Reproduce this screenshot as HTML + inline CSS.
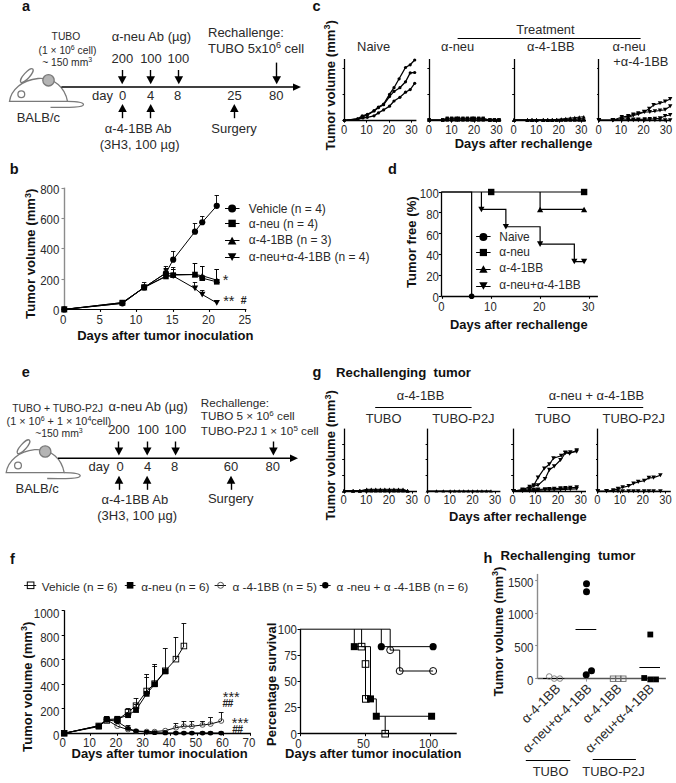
<!DOCTYPE html>
<html><head><meta charset="utf-8"><style>
html,body{margin:0;padding:0;background:#fff;}
svg{display:block;}
text{font-family:"Liberation Sans", sans-serif;}
</style></head><body>
<svg width="676" height="783" viewBox="0 0 676 783">
<rect width="676" height="783" fill="#fff"/>
<text x="21.90" y="11.30" font-size="14.5" font-weight="bold" fill="#111">a</text>
<text x="65.90" y="40.20" font-size="10.3" text-anchor="middle" fill="#2a2a2a">TUBO</text>
<text x="67.50" y="54.00" font-size="10.3" text-anchor="middle" fill="#2a2a2a">(1 × 10<tspan dy="-4" font-size="7">6</tspan><tspan dy="4"> cell)</tspan></text>
<text x="67.20" y="65.50" font-size="10.3" text-anchor="middle" fill="#2a2a2a">~ 150 mm<tspan dy="-4" font-size="7">3</tspan></text>
<g transform="translate(0.00 0.00)" fill="none" stroke="#7a7a7a" stroke-width="1.3">
<ellipse cx="26.8" cy="75.6" rx="8.9" ry="2.9" transform="rotate(-48 26.8 75.6)" fill="#fff"/>
<path d="M9.5,101.4 C11,90 22,80 38,78.5 C55,77.5 65,88 67.5,101.4 Z" fill="#fff"/>
<path d="M67.5,101.4 C75,101.4 83,101.5 83.5,104.5 C83.5,107.5 70,107.6 50.5,107.3"/>
<circle cx="21.3" cy="94.3" r="3.4" fill="#fff"/>
<circle cx="48.5" cy="80.3" r="5.7" fill="#b4b4b4"/>
</g>
<text x="16.70" y="122.00" font-size="13" fill="#2a2a2a">BALB/c</text>
<line x1="61.40" y1="87.10" x2="294.00" y2="87.10" stroke="#000" stroke-width="1.5"/>
<polygon points="293.00,83.40 301.00,87.10 293.00,90.80" fill="#000"/>
<text x="111.70" y="41.00" font-size="13" fill="#2a2a2a">α-neu Ab (µg)</text>
<text x="122.40" y="62.60" font-size="13" text-anchor="middle" fill="#2a2a2a">200</text>
<text x="151.00" y="62.60" font-size="13" text-anchor="middle" fill="#2a2a2a">100</text>
<text x="178.40" y="62.60" font-size="13" text-anchor="middle" fill="#2a2a2a">100</text>
<line x1="122.50" y1="70.00" x2="122.50" y2="77.30" stroke="#000" stroke-width="1.4"/>
<polygon points="117.90,76.30 126.50,76.30 122.20,84.30" fill="#000"/>
<line x1="150.50" y1="70.00" x2="150.50" y2="77.30" stroke="#000" stroke-width="1.4"/>
<polygon points="146.40,76.30 155.00,76.30 150.70,84.30" fill="#000"/>
<line x1="178.50" y1="70.00" x2="178.50" y2="77.30" stroke="#000" stroke-width="1.4"/>
<polygon points="174.50,76.30 183.10,76.30 178.80,84.30" fill="#000"/>
<line x1="276.50" y1="62.60" x2="276.50" y2="77.30" stroke="#000" stroke-width="1.4"/>
<polygon points="272.40,76.30 281.00,76.30 276.70,84.30" fill="#000"/>
<text x="92.00" y="100.20" font-size="13" fill="#2a2a2a">day</text>
<text x="122.60" y="100.20" font-size="13" text-anchor="middle" fill="#2a2a2a">0</text>
<text x="150.70" y="100.20" font-size="13" text-anchor="middle" fill="#2a2a2a">4</text>
<text x="177.60" y="100.20" font-size="13" text-anchor="middle" fill="#2a2a2a">8</text>
<text x="234.60" y="100.20" font-size="13" text-anchor="middle" fill="#2a2a2a">25</text>
<text x="276.30" y="100.20" font-size="13" text-anchor="middle" fill="#2a2a2a">80</text>
<line x1="122.50" y1="111.00" x2="122.50" y2="118.20" stroke="#000" stroke-width="1.4"/>
<polygon points="118.20,112.00 126.80,112.00 122.50,104.00" fill="#000"/>
<line x1="150.50" y1="111.00" x2="150.50" y2="118.20" stroke="#000" stroke-width="1.4"/>
<polygon points="146.40,112.00 155.00,112.00 150.70,104.00" fill="#000"/>
<line x1="234.50" y1="111.00" x2="234.50" y2="118.20" stroke="#000" stroke-width="1.4"/>
<polygon points="230.00,112.00 238.60,112.00 234.30,104.00" fill="#000"/>
<text x="138.20" y="133.30" font-size="13" text-anchor="middle" fill="#2a2a2a">α-4-1BB Ab</text>
<text x="139.60" y="149.20" font-size="13" text-anchor="middle" fill="#2a2a2a">(3H3, 100 µg)</text>
<text x="234.00" y="133.00" font-size="13" text-anchor="middle" fill="#2a2a2a">Surgery</text>
<text x="208.00" y="36.90" font-size="13" fill="#2a2a2a">Rechallenge:</text>
<text x="208.00" y="52.80" font-size="13" fill="#2a2a2a">TUBO 5x10<tspan dy="-4.5" font-size="9">6</tspan><tspan dy="4.5"> cell</tspan></text>
<text x="21.70" y="377.40" font-size="14.5" font-weight="bold" fill="#111">e</text>
<text x="57.50" y="411.80" font-size="10.4" text-anchor="middle" fill="#2a2a2a">TUBO + TUBO-P2J</text>
<text x="58.90" y="424.80" font-size="10.85" text-anchor="middle" fill="#2a2a2a">(1 × 10<tspan dy="-4" font-size="7">6</tspan><tspan dy="4"> + 1 × 10</tspan><tspan dy="-4" font-size="7">4</tspan><tspan dy="4">cell)</tspan></text>
<text x="59.00" y="436.70" font-size="10.4" text-anchor="middle" fill="#2a2a2a">~150 mm<tspan dy="-4" font-size="7">3</tspan></text>
<g transform="translate(-3.30 371.20)" fill="none" stroke="#7a7a7a" stroke-width="1.3">
<ellipse cx="26.8" cy="75.6" rx="8.9" ry="2.9" transform="rotate(-48 26.8 75.6)" fill="#fff"/>
<path d="M9.5,101.4 C11,90 22,80 38,78.5 C55,77.5 65,88 67.5,101.4 Z" fill="#fff"/>
<path d="M67.5,101.4 C75,101.4 83,101.5 83.5,104.5 C83.5,107.5 70,107.6 50.5,107.3"/>
<circle cx="21.3" cy="94.3" r="3.4" fill="#fff"/>
<circle cx="48.5" cy="80.3" r="5.7" fill="#b4b4b4"/>
</g>
<text x="15.50" y="492.90" font-size="13" fill="#2a2a2a">BALB/c</text>
<line x1="58.00" y1="458.30" x2="291.00" y2="458.30" stroke="#000" stroke-width="1.5"/>
<polygon points="290.00,454.60 298.00,458.30 290.00,462.00" fill="#000"/>
<text x="108.60" y="411.30" font-size="13" fill="#2a2a2a">α-neu Ab (µg)</text>
<text x="119.00" y="433.50" font-size="13" text-anchor="middle" fill="#2a2a2a">200</text>
<text x="148.20" y="433.50" font-size="13" text-anchor="middle" fill="#2a2a2a">100</text>
<text x="175.40" y="433.50" font-size="13" text-anchor="middle" fill="#2a2a2a">100</text>
<line x1="118.50" y1="441.50" x2="118.50" y2="448.40" stroke="#000" stroke-width="1.4"/>
<polygon points="114.60,447.40 123.20,447.40 118.90,455.40" fill="#000"/>
<line x1="147.50" y1="441.50" x2="147.50" y2="448.40" stroke="#000" stroke-width="1.4"/>
<polygon points="142.90,447.40 151.50,447.40 147.20,455.40" fill="#000"/>
<line x1="175.50" y1="441.50" x2="175.50" y2="448.40" stroke="#000" stroke-width="1.4"/>
<polygon points="171.30,447.40 179.90,447.40 175.60,455.40" fill="#000"/>
<line x1="273.50" y1="441.50" x2="273.50" y2="448.40" stroke="#000" stroke-width="1.4"/>
<polygon points="269.10,447.40 277.70,447.40 273.40,455.40" fill="#000"/>
<text x="88.60" y="471.30" font-size="13" fill="#2a2a2a">day</text>
<text x="120.00" y="471.30" font-size="13" text-anchor="middle" fill="#2a2a2a">0</text>
<text x="147.50" y="471.30" font-size="13" text-anchor="middle" fill="#2a2a2a">4</text>
<text x="174.60" y="471.30" font-size="13" text-anchor="middle" fill="#2a2a2a">8</text>
<text x="231.00" y="471.30" font-size="13" text-anchor="middle" fill="#2a2a2a">60</text>
<text x="272.80" y="471.30" font-size="13" text-anchor="middle" fill="#2a2a2a">80</text>
<line x1="119.50" y1="482.80" x2="119.50" y2="489.80" stroke="#000" stroke-width="1.4"/>
<polygon points="114.70,483.80 123.30,483.80 119.00,475.80" fill="#000"/>
<line x1="147.50" y1="482.80" x2="147.50" y2="489.80" stroke="#000" stroke-width="1.4"/>
<polygon points="142.80,483.80 151.40,483.80 147.10,475.80" fill="#000"/>
<line x1="231.50" y1="482.80" x2="231.50" y2="489.80" stroke="#000" stroke-width="1.4"/>
<polygon points="226.70,483.80 235.30,483.80 231.00,475.80" fill="#000"/>
<text x="134.90" y="504.10" font-size="13" text-anchor="middle" fill="#2a2a2a">α-4-1BB Ab</text>
<text x="137.10" y="520.10" font-size="13" text-anchor="middle" fill="#2a2a2a">(3H3, 100 µg)</text>
<text x="230.70" y="503.20" font-size="13" text-anchor="middle" fill="#2a2a2a">Surgery</text>
<text x="200.80" y="406.90" font-size="11.7" fill="#2a2a2a">Rechallenge:</text>
<text x="200.80" y="420.40" font-size="11.7" fill="#2a2a2a">TUBO 5 × 10<tspan dy="-4" font-size="8">6</tspan><tspan dy="4"> cell</tspan></text>
<text x="200.80" y="434.90" font-size="11.7" fill="#2a2a2a">TUBO-P2J 1 × 10<tspan dy="-4" font-size="8">5</tspan><tspan dy="4"> cell</tspan></text>
<text x="9.80" y="173.90" font-size="14.5" font-weight="bold" fill="#111">b</text>
<line x1="64.50" y1="187.62" x2="64.50" y2="309.40" stroke="#8c8c8c" stroke-width="1.4"/>
<line x1="61.50" y1="309.50" x2="64.00" y2="309.50" stroke="#8c8c8c" stroke-width="1.1"/>
<text x="0.00" y="0.00" font-size="11.5" text-anchor="end" fill="#2a2a2a" transform="translate(59.40 315.00) scale(1 1.12)">0</text>
<line x1="61.50" y1="279.50" x2="64.00" y2="279.50" stroke="#8c8c8c" stroke-width="1.1"/>
<text x="0.00" y="0.00" font-size="11.5" text-anchor="end" fill="#2a2a2a" transform="translate(59.40 284.68) scale(1 1.12)">200</text>
<line x1="61.50" y1="248.50" x2="64.00" y2="248.50" stroke="#8c8c8c" stroke-width="1.1"/>
<text x="0.00" y="0.00" font-size="11.5" text-anchor="end" fill="#2a2a2a" transform="translate(59.40 254.36) scale(1 1.12)">400</text>
<line x1="61.50" y1="218.50" x2="64.00" y2="218.50" stroke="#8c8c8c" stroke-width="1.1"/>
<text x="0.00" y="0.00" font-size="11.5" text-anchor="end" fill="#2a2a2a" transform="translate(59.40 224.04) scale(1 1.12)">600</text>
<line x1="61.50" y1="188.50" x2="64.00" y2="188.50" stroke="#8c8c8c" stroke-width="1.1"/>
<text x="0.00" y="0.00" font-size="11.5" text-anchor="end" fill="#2a2a2a" transform="translate(59.40 193.72) scale(1 1.12)">800</text>
<line x1="64.00" y1="309.50" x2="246.40" y2="309.50" stroke="#000" stroke-width="1.2"/>
<line x1="64.50" y1="309.40" x2="64.50" y2="311.90" stroke="#000" stroke-width="1.1"/>
<text x="0.00" y="0.00" font-size="11.5" text-anchor="middle" fill="#2a2a2a" transform="translate(63.30 323.50) scale(1 1.12)">0</text>
<line x1="100.50" y1="309.40" x2="100.50" y2="311.90" stroke="#000" stroke-width="1.1"/>
<text x="0.00" y="0.00" font-size="11.5" text-anchor="middle" fill="#2a2a2a" transform="translate(99.60 323.50) scale(1 1.12)">5</text>
<line x1="136.50" y1="309.40" x2="136.50" y2="311.90" stroke="#000" stroke-width="1.1"/>
<text x="0.00" y="0.00" font-size="11.5" text-anchor="middle" fill="#2a2a2a" transform="translate(135.90 323.50) scale(1 1.12)">10</text>
<line x1="173.50" y1="309.40" x2="173.50" y2="311.90" stroke="#000" stroke-width="1.1"/>
<text x="0.00" y="0.00" font-size="11.5" text-anchor="middle" fill="#2a2a2a" transform="translate(172.20 323.50) scale(1 1.12)">15</text>
<line x1="209.50" y1="309.40" x2="209.50" y2="311.90" stroke="#000" stroke-width="1.1"/>
<text x="0.00" y="0.00" font-size="11.5" text-anchor="middle" fill="#2a2a2a" transform="translate(208.50 323.50) scale(1 1.12)">20</text>
<line x1="245.50" y1="309.40" x2="245.50" y2="311.90" stroke="#000" stroke-width="1.1"/>
<text x="0.00" y="0.00" font-size="11.5" text-anchor="middle" fill="#2a2a2a" transform="translate(244.80 323.50) scale(1 1.12)">25</text>
<text x="165.30" y="339.90" font-size="13" font-weight="bold" text-anchor="middle" fill="#111">Days after tumor inoculation</text>
<text x="35.20" y="318.90" font-size="13.15" font-weight="bold" fill="#111" transform="rotate(-90 35.20 318.90)">Tumor volume (mm<tspan dy="-4.6" font-size="9">3</tspan><tspan dy="4.6">)</tspan></text>
<line x1="144.50" y1="287.42" x2="144.50" y2="282.87" stroke="#000" stroke-width="0.9"/>
<line x1="141.96" y1="282.50" x2="146.36" y2="282.50" stroke="#000" stroke-width="0.9"/>
<line x1="165.50" y1="273.02" x2="165.50" y2="266.19" stroke="#000" stroke-width="0.9"/>
<line x1="163.74" y1="266.50" x2="168.14" y2="266.50" stroke="#000" stroke-width="0.9"/>
<line x1="173.50" y1="259.68" x2="173.50" y2="251.03" stroke="#000" stroke-width="0.9"/>
<line x1="171.00" y1="251.50" x2="175.40" y2="251.50" stroke="#000" stroke-width="0.9"/>
<line x1="194.50" y1="231.63" x2="194.50" y2="223.14" stroke="#000" stroke-width="0.9"/>
<line x1="192.78" y1="223.50" x2="197.18" y2="223.50" stroke="#000" stroke-width="0.9"/>
<line x1="202.50" y1="222.23" x2="202.50" y2="216.17" stroke="#000" stroke-width="0.9"/>
<line x1="200.04" y1="216.50" x2="204.44" y2="216.50" stroke="#000" stroke-width="0.9"/>
<line x1="216.50" y1="205.86" x2="216.50" y2="195.09" stroke="#000" stroke-width="0.9"/>
<line x1="214.56" y1="195.50" x2="218.96" y2="195.50" stroke="#000" stroke-width="0.9"/>
<line x1="165.50" y1="276.50" x2="165.50" y2="268.47" stroke="#000" stroke-width="0.9"/>
<line x1="163.74" y1="268.50" x2="168.14" y2="268.50" stroke="#000" stroke-width="0.9"/>
<line x1="173.50" y1="275.14" x2="173.50" y2="269.23" stroke="#000" stroke-width="0.9"/>
<line x1="171.00" y1="269.50" x2="175.40" y2="269.50" stroke="#000" stroke-width="0.9"/>
<line x1="194.50" y1="274.53" x2="194.50" y2="263.92" stroke="#000" stroke-width="0.9"/>
<line x1="192.78" y1="263.50" x2="197.18" y2="263.50" stroke="#000" stroke-width="0.9"/>
<line x1="202.50" y1="278.17" x2="202.50" y2="266.50" stroke="#000" stroke-width="0.9"/>
<line x1="200.04" y1="266.50" x2="204.44" y2="266.50" stroke="#000" stroke-width="0.9"/>
<line x1="216.50" y1="281.81" x2="216.50" y2="269.68" stroke="#000" stroke-width="0.9"/>
<line x1="214.56" y1="269.50" x2="218.96" y2="269.50" stroke="#000" stroke-width="0.9"/>
<line x1="165.50" y1="273.02" x2="165.50" y2="269.68" stroke="#000" stroke-width="0.9"/>
<line x1="163.74" y1="269.50" x2="168.14" y2="269.50" stroke="#000" stroke-width="0.9"/>
<line x1="173.50" y1="274.53" x2="173.50" y2="269.68" stroke="#000" stroke-width="0.9"/>
<line x1="171.00" y1="269.50" x2="175.40" y2="269.50" stroke="#000" stroke-width="0.9"/>
<line x1="194.50" y1="274.53" x2="194.50" y2="263.47" stroke="#000" stroke-width="0.9"/>
<line x1="192.78" y1="263.50" x2="197.18" y2="263.50" stroke="#000" stroke-width="0.9"/>
<line x1="202.50" y1="275.74" x2="202.50" y2="266.19" stroke="#000" stroke-width="0.9"/>
<line x1="200.04" y1="266.50" x2="204.44" y2="266.50" stroke="#000" stroke-width="0.9"/>
<line x1="216.50" y1="280.14" x2="216.50" y2="269.68" stroke="#000" stroke-width="0.9"/>
<line x1="214.56" y1="269.50" x2="218.96" y2="269.50" stroke="#000" stroke-width="0.9"/>
<line x1="165.50" y1="276.05" x2="165.50" y2="268.77" stroke="#000" stroke-width="0.9"/>
<line x1="163.74" y1="268.50" x2="168.14" y2="268.50" stroke="#000" stroke-width="0.9"/>
<line x1="173.50" y1="276.05" x2="173.50" y2="267.56" stroke="#000" stroke-width="0.9"/>
<line x1="171.00" y1="267.50" x2="175.40" y2="267.50" stroke="#000" stroke-width="0.9"/>
<line x1="194.50" y1="288.48" x2="194.50" y2="282.26" stroke="#000" stroke-width="0.9"/>
<line x1="192.78" y1="282.50" x2="197.18" y2="282.50" stroke="#000" stroke-width="0.9"/>
<line x1="202.50" y1="294.54" x2="202.50" y2="290.45" stroke="#000" stroke-width="0.9"/>
<line x1="200.04" y1="290.50" x2="204.44" y2="290.50" stroke="#000" stroke-width="0.9"/>
<polyline points="64.30,309.40 122.38,303.34 144.16,287.42 165.94,273.02 173.20,259.68 194.98,231.63 202.24,222.23 216.76,205.86" fill="none" stroke="#000" stroke-width="1.0" stroke-linejoin="miter"/>
<polyline points="64.30,309.40 122.38,302.58 144.16,287.42 165.94,276.50 173.20,275.14 194.98,274.53 202.24,278.17 216.76,281.81" fill="none" stroke="#000" stroke-width="1.0" stroke-linejoin="miter"/>
<polyline points="64.30,309.40 122.38,302.58 144.16,287.42 165.94,273.02 173.20,274.53 194.98,274.53 202.24,275.74 216.76,280.14" fill="none" stroke="#000" stroke-width="1.0" stroke-linejoin="miter"/>
<polyline points="64.30,309.40 122.38,303.34 144.16,287.42 165.94,276.05 173.20,276.05 194.98,288.48 202.24,294.54 216.76,302.88" fill="none" stroke="#000" stroke-width="1.0" stroke-linejoin="miter"/>
<circle cx="64.30" cy="309.40" r="3.10" fill="#000"/>
<circle cx="122.38" cy="303.34" r="3.10" fill="#000"/>
<circle cx="144.16" cy="287.42" r="3.10" fill="#000"/>
<circle cx="165.94" cy="273.02" r="3.10" fill="#000"/>
<circle cx="173.20" cy="259.68" r="3.10" fill="#000"/>
<circle cx="194.98" cy="231.63" r="3.10" fill="#000"/>
<circle cx="202.24" cy="222.23" r="3.10" fill="#000"/>
<circle cx="216.76" cy="205.86" r="3.10" fill="#000"/>
<rect x="61.50" y="306.60" width="5.60" height="5.60" fill="#000"/>
<rect x="119.58" y="299.78" width="5.60" height="5.60" fill="#000"/>
<rect x="141.36" y="284.62" width="5.60" height="5.60" fill="#000"/>
<rect x="163.14" y="273.70" width="5.60" height="5.60" fill="#000"/>
<rect x="170.40" y="272.34" width="5.60" height="5.60" fill="#000"/>
<rect x="192.18" y="271.73" width="5.60" height="5.60" fill="#000"/>
<rect x="199.44" y="275.37" width="5.60" height="5.60" fill="#000"/>
<rect x="213.96" y="279.01" width="5.60" height="5.60" fill="#000"/>
<polygon points="61.10,312.28 67.50,312.28 64.30,306.52" fill="#000"/>
<polygon points="119.18,305.46 125.58,305.46 122.38,299.70" fill="#000"/>
<polygon points="140.96,290.30 147.36,290.30 144.16,284.54" fill="#000"/>
<polygon points="162.74,275.90 169.14,275.90 165.94,270.14" fill="#000"/>
<polygon points="170.00,277.41 176.40,277.41 173.20,271.65" fill="#000"/>
<polygon points="191.78,277.41 198.18,277.41 194.98,271.65" fill="#000"/>
<polygon points="199.04,278.62 205.44,278.62 202.24,272.86" fill="#000"/>
<polygon points="213.56,283.02 219.96,283.02 216.76,277.26" fill="#000"/>
<polygon points="61.10,306.52 67.50,306.52 64.30,312.28" fill="#000"/>
<polygon points="119.18,300.46 125.58,300.46 122.38,306.22" fill="#000"/>
<polygon points="140.96,284.54 147.36,284.54 144.16,290.30" fill="#000"/>
<polygon points="162.74,273.17 169.14,273.17 165.94,278.93" fill="#000"/>
<polygon points="170.00,273.17 176.40,273.17 173.20,278.93" fill="#000"/>
<polygon points="191.78,285.60 198.18,285.60 194.98,291.36" fill="#000"/>
<polygon points="199.04,291.66 205.44,291.66 202.24,297.42" fill="#000"/>
<polygon points="213.56,300.00 219.96,300.00 216.76,305.76" fill="#000"/>
<line x1="225.00" y1="208.50" x2="239.50" y2="208.50" stroke="#000" stroke-width="1.0"/>
<circle cx="232.10" cy="208.60" r="4.00" fill="#000"/>
<text x="248.80" y="212.70" font-size="12" fill="#2a2a2a">Vehicle (n = 4)</text>
<line x1="225.00" y1="223.50" x2="239.50" y2="223.50" stroke="#000" stroke-width="1.0"/>
<rect x="228.40" y="219.70" width="7.40" height="7.40" fill="#000"/>
<text x="248.80" y="227.60" font-size="12" fill="#2a2a2a">α-neu (n = 4)</text>
<line x1="225.00" y1="240.50" x2="239.50" y2="240.50" stroke="#000" stroke-width="1.0"/>
<polygon points="227.80,244.47 236.40,244.47 232.10,236.73" fill="#000"/>
<text x="248.80" y="244.10" font-size="12" fill="#2a2a2a">α-4-1BB (n = 3)</text>
<line x1="225.00" y1="257.50" x2="239.50" y2="257.50" stroke="#000" stroke-width="1.0"/>
<polygon points="227.80,253.23 236.40,253.23 232.10,260.97" fill="#000"/>
<text x="248.80" y="260.70" font-size="12" fill="#2a2a2a">α-neu+α-4-1BB (n = 4)</text>
<text x="222.80" y="285.20" font-size="14.5" fill="#222">*</text>
<text x="223.20" y="306.20" font-size="14.5" fill="#222">**</text>
<text x="240.80" y="304.00" font-size="10.6" font-weight="bold" fill="#222">#</text>
<text x="312.60" y="11.30" font-size="14.5" font-weight="bold" fill="#111">c</text>
<text x="334.60" y="150.40" font-size="13.15" font-weight="bold" fill="#111" transform="rotate(-90 334.60 150.40)">Tumor volume (mm<tspan dy="-4.6" font-size="9">3</tspan><tspan dy="4.6">)</tspan></text>
<text x="545.50" y="34.00" font-size="12.9" text-anchor="middle" fill="#2a2a2a">Treatment</text>
<line x1="457.60" y1="38.50" x2="640.60" y2="38.50" stroke="#000" stroke-width="1.2"/>
<text x="373.60" y="51.10" font-size="12.9" text-anchor="middle" fill="#2a2a2a">Naive</text>
<text x="457.60" y="50.80" font-size="12.9" text-anchor="middle" fill="#2a2a2a">α-neu</text>
<text x="550.80" y="50.60" font-size="12.9" text-anchor="middle" fill="#2a2a2a">α-4-1BB</text>
<text x="612.50" y="50.80" font-size="12.9" fill="#2a2a2a">α-neu</text>
<text x="613.30" y="66.40" font-size="12.9" fill="#2a2a2a">+α-4-1BB</text>
<line x1="344.50" y1="59.00" x2="344.50" y2="120.50" stroke="#000" stroke-width="1.3"/>
<line x1="344.40" y1="120.50" x2="416.40" y2="120.50" stroke="#000" stroke-width="1.3"/>
<line x1="342.60" y1="94.50" x2="344.40" y2="94.50" stroke="#000" stroke-width="1.0"/>
<line x1="342.60" y1="68.50" x2="344.40" y2="68.50" stroke="#000" stroke-width="1.0"/>
<line x1="344.50" y1="120.50" x2="344.50" y2="122.70" stroke="#000" stroke-width="1.0"/>
<text x="0.00" y="0.00" font-size="11.2" text-anchor="middle" fill="#2a2a2a" transform="translate(344.10 133.50) scale(1 1.1)">0</text>
<line x1="366.50" y1="120.50" x2="366.50" y2="122.70" stroke="#000" stroke-width="1.0"/>
<text x="0.00" y="0.00" font-size="11.2" text-anchor="middle" fill="#2a2a2a" transform="translate(366.60 133.50) scale(1 1.1)">10</text>
<line x1="389.50" y1="120.50" x2="389.50" y2="122.70" stroke="#000" stroke-width="1.0"/>
<text x="0.00" y="0.00" font-size="11.2" text-anchor="middle" fill="#2a2a2a" transform="translate(389.10 133.50) scale(1 1.1)">20</text>
<line x1="411.50" y1="120.50" x2="411.50" y2="122.70" stroke="#000" stroke-width="1.0"/>
<text x="0.00" y="0.00" font-size="11.2" text-anchor="middle" fill="#2a2a2a" transform="translate(411.60 133.50) scale(1 1.1)">30</text>
<line x1="429.50" y1="59.00" x2="429.50" y2="120.50" stroke="#000" stroke-width="1.3"/>
<line x1="429.20" y1="120.50" x2="501.20" y2="120.50" stroke="#000" stroke-width="1.3"/>
<line x1="427.40" y1="94.50" x2="429.20" y2="94.50" stroke="#000" stroke-width="1.0"/>
<line x1="427.40" y1="68.50" x2="429.20" y2="68.50" stroke="#000" stroke-width="1.0"/>
<line x1="429.50" y1="120.50" x2="429.50" y2="122.70" stroke="#000" stroke-width="1.0"/>
<text x="0.00" y="0.00" font-size="11.2" text-anchor="middle" fill="#2a2a2a" transform="translate(428.90 133.50) scale(1 1.1)">0</text>
<line x1="451.50" y1="120.50" x2="451.50" y2="122.70" stroke="#000" stroke-width="1.0"/>
<text x="0.00" y="0.00" font-size="11.2" text-anchor="middle" fill="#2a2a2a" transform="translate(451.40 133.50) scale(1 1.1)">10</text>
<line x1="474.50" y1="120.50" x2="474.50" y2="122.70" stroke="#000" stroke-width="1.0"/>
<text x="0.00" y="0.00" font-size="11.2" text-anchor="middle" fill="#2a2a2a" transform="translate(473.90 133.50) scale(1 1.1)">20</text>
<line x1="496.50" y1="120.50" x2="496.50" y2="122.70" stroke="#000" stroke-width="1.0"/>
<text x="0.00" y="0.00" font-size="11.2" text-anchor="middle" fill="#2a2a2a" transform="translate(496.40 133.50) scale(1 1.1)">30</text>
<line x1="514.50" y1="59.00" x2="514.50" y2="120.50" stroke="#000" stroke-width="1.3"/>
<line x1="514.00" y1="120.50" x2="586.00" y2="120.50" stroke="#000" stroke-width="1.3"/>
<line x1="512.20" y1="94.50" x2="514.00" y2="94.50" stroke="#000" stroke-width="1.0"/>
<line x1="512.20" y1="68.50" x2="514.00" y2="68.50" stroke="#000" stroke-width="1.0"/>
<line x1="514.50" y1="120.50" x2="514.50" y2="122.70" stroke="#000" stroke-width="1.0"/>
<text x="0.00" y="0.00" font-size="11.2" text-anchor="middle" fill="#2a2a2a" transform="translate(513.70 133.50) scale(1 1.1)">0</text>
<line x1="536.50" y1="120.50" x2="536.50" y2="122.70" stroke="#000" stroke-width="1.0"/>
<text x="0.00" y="0.00" font-size="11.2" text-anchor="middle" fill="#2a2a2a" transform="translate(536.20 133.50) scale(1 1.1)">10</text>
<line x1="559.50" y1="120.50" x2="559.50" y2="122.70" stroke="#000" stroke-width="1.0"/>
<text x="0.00" y="0.00" font-size="11.2" text-anchor="middle" fill="#2a2a2a" transform="translate(558.70 133.50) scale(1 1.1)">20</text>
<line x1="581.50" y1="120.50" x2="581.50" y2="122.70" stroke="#000" stroke-width="1.0"/>
<text x="0.00" y="0.00" font-size="11.2" text-anchor="middle" fill="#2a2a2a" transform="translate(581.20 133.50) scale(1 1.1)">30</text>
<line x1="598.50" y1="59.00" x2="598.50" y2="120.50" stroke="#000" stroke-width="1.3"/>
<line x1="598.90" y1="120.50" x2="670.90" y2="120.50" stroke="#000" stroke-width="1.3"/>
<line x1="597.10" y1="94.50" x2="598.90" y2="94.50" stroke="#000" stroke-width="1.0"/>
<line x1="597.10" y1="68.50" x2="598.90" y2="68.50" stroke="#000" stroke-width="1.0"/>
<line x1="598.50" y1="120.50" x2="598.50" y2="122.70" stroke="#000" stroke-width="1.0"/>
<text x="0.00" y="0.00" font-size="11.2" text-anchor="middle" fill="#2a2a2a" transform="translate(598.60 133.50) scale(1 1.1)">0</text>
<line x1="621.50" y1="120.50" x2="621.50" y2="122.70" stroke="#000" stroke-width="1.0"/>
<text x="0.00" y="0.00" font-size="11.2" text-anchor="middle" fill="#2a2a2a" transform="translate(621.10 133.50) scale(1 1.1)">10</text>
<line x1="643.50" y1="120.50" x2="643.50" y2="122.70" stroke="#000" stroke-width="1.0"/>
<text x="0.00" y="0.00" font-size="11.2" text-anchor="middle" fill="#2a2a2a" transform="translate(643.60 133.50) scale(1 1.1)">20</text>
<line x1="666.50" y1="120.50" x2="666.50" y2="122.70" stroke="#000" stroke-width="1.0"/>
<text x="0.00" y="0.00" font-size="11.2" text-anchor="middle" fill="#2a2a2a" transform="translate(666.10 133.50) scale(1 1.1)">30</text>
<text x="523.60" y="148.20" font-size="12.9" font-weight="bold" text-anchor="middle" fill="#111">Days after rechallenge</text>
<polyline points="344.40,120.30 357.70,118.80 362.20,115.80 367.30,114.30 374.00,110.70 378.40,107.00 383.60,104.00 389.50,94.40 394.00,87.70 399.10,78.80 405.50,67.50 410.20,64.80 414.70,60.00" fill="none" stroke="#000" stroke-width="1.3" stroke-linejoin="miter"/>
<circle cx="344.40" cy="120.30" r="1.60" fill="#000"/>
<circle cx="357.70" cy="118.80" r="1.60" fill="#000"/>
<circle cx="362.20" cy="115.80" r="1.60" fill="#000"/>
<circle cx="367.30" cy="114.30" r="1.60" fill="#000"/>
<circle cx="374.00" cy="110.70" r="1.60" fill="#000"/>
<circle cx="378.40" cy="107.00" r="1.60" fill="#000"/>
<circle cx="383.60" cy="104.00" r="1.60" fill="#000"/>
<circle cx="389.50" cy="94.40" r="1.60" fill="#000"/>
<circle cx="394.00" cy="87.70" r="1.60" fill="#000"/>
<circle cx="399.10" cy="78.80" r="1.60" fill="#000"/>
<circle cx="405.50" cy="67.50" r="1.60" fill="#000"/>
<circle cx="410.20" cy="64.80" r="1.60" fill="#000"/>
<circle cx="414.70" cy="60.00" r="1.60" fill="#000"/>
<polyline points="344.40,120.30 357.70,119.00 362.90,116.60 367.30,115.10 374.00,111.00 378.40,107.70 383.60,104.70 389.50,96.60 394.00,91.40 399.90,87.70 405.50,81.80 410.20,72.90 414.70,72.50" fill="none" stroke="#000" stroke-width="1.3" stroke-linejoin="miter"/>
<circle cx="344.40" cy="120.30" r="1.60" fill="#000"/>
<circle cx="357.70" cy="119.00" r="1.60" fill="#000"/>
<circle cx="362.90" cy="116.60" r="1.60" fill="#000"/>
<circle cx="367.30" cy="115.10" r="1.60" fill="#000"/>
<circle cx="374.00" cy="111.00" r="1.60" fill="#000"/>
<circle cx="378.40" cy="107.70" r="1.60" fill="#000"/>
<circle cx="383.60" cy="104.70" r="1.60" fill="#000"/>
<circle cx="389.50" cy="96.60" r="1.60" fill="#000"/>
<circle cx="394.00" cy="91.40" r="1.60" fill="#000"/>
<circle cx="399.90" cy="87.70" r="1.60" fill="#000"/>
<circle cx="405.50" cy="81.80" r="1.60" fill="#000"/>
<circle cx="410.20" cy="72.90" r="1.60" fill="#000"/>
<circle cx="414.70" cy="72.50" r="1.60" fill="#000"/>
<polyline points="344.40,120.30 357.70,119.20 362.90,118.00 367.30,117.30 374.00,115.80 378.40,112.90 383.60,109.90 389.50,106.20 394.00,101.00 399.90,97.30 405.50,92.20 410.20,89.60 414.70,83.30" fill="none" stroke="#000" stroke-width="1.3" stroke-linejoin="miter"/>
<circle cx="344.40" cy="120.30" r="1.60" fill="#000"/>
<circle cx="357.70" cy="119.20" r="1.60" fill="#000"/>
<circle cx="362.90" cy="118.00" r="1.60" fill="#000"/>
<circle cx="367.30" cy="117.30" r="1.60" fill="#000"/>
<circle cx="374.00" cy="115.80" r="1.60" fill="#000"/>
<circle cx="378.40" cy="112.90" r="1.60" fill="#000"/>
<circle cx="383.60" cy="109.90" r="1.60" fill="#000"/>
<circle cx="389.50" cy="106.20" r="1.60" fill="#000"/>
<circle cx="394.00" cy="101.00" r="1.60" fill="#000"/>
<circle cx="399.90" cy="97.30" r="1.60" fill="#000"/>
<circle cx="405.50" cy="92.20" r="1.60" fill="#000"/>
<circle cx="410.20" cy="89.60" r="1.60" fill="#000"/>
<circle cx="414.70" cy="83.30" r="1.60" fill="#000"/>
<polyline points="429.20,120.00 442.70,120.00 447.20,120.00 451.70,120.00 456.20,120.00 458.45,120.00 462.95,120.00 467.45,120.00 471.95,120.00 474.20,120.00 478.70,120.00 483.20,120.00 489.95,120.00 494.45,120.00 498.95,120.00" fill="none" stroke="#000" stroke-width="1.0" stroke-linejoin="miter"/>
<rect x="427.55" y="118.35" width="3.30" height="3.30" fill="#000"/>
<rect x="441.05" y="118.35" width="3.30" height="3.30" fill="#000"/>
<rect x="445.55" y="118.35" width="3.30" height="3.30" fill="#000"/>
<rect x="450.05" y="118.35" width="3.30" height="3.30" fill="#000"/>
<rect x="454.55" y="118.35" width="3.30" height="3.30" fill="#000"/>
<rect x="456.80" y="118.35" width="3.30" height="3.30" fill="#000"/>
<rect x="461.30" y="118.35" width="3.30" height="3.30" fill="#000"/>
<rect x="465.80" y="118.35" width="3.30" height="3.30" fill="#000"/>
<rect x="470.30" y="118.35" width="3.30" height="3.30" fill="#000"/>
<rect x="472.55" y="118.35" width="3.30" height="3.30" fill="#000"/>
<rect x="477.05" y="118.35" width="3.30" height="3.30" fill="#000"/>
<rect x="481.55" y="118.35" width="3.30" height="3.30" fill="#000"/>
<rect x="488.30" y="118.35" width="3.30" height="3.30" fill="#000"/>
<rect x="492.80" y="118.35" width="3.30" height="3.30" fill="#000"/>
<rect x="497.30" y="118.35" width="3.30" height="3.30" fill="#000"/>
<polyline points="429.20,120.00 442.70,120.00 447.20,119.00 451.70,119.00 456.20,119.00 458.45,119.00 462.95,119.00 467.45,119.00 471.95,119.00 474.20,119.00 478.70,119.00 483.20,119.00 489.95,120.00 494.45,120.00 498.95,120.00" fill="none" stroke="#000" stroke-width="1.0" stroke-linejoin="miter"/>
<rect x="427.55" y="118.35" width="3.30" height="3.30" fill="#000"/>
<rect x="441.05" y="118.35" width="3.30" height="3.30" fill="#000"/>
<rect x="445.55" y="117.35" width="3.30" height="3.30" fill="#000"/>
<rect x="450.05" y="117.35" width="3.30" height="3.30" fill="#000"/>
<rect x="454.55" y="117.35" width="3.30" height="3.30" fill="#000"/>
<rect x="456.80" y="117.35" width="3.30" height="3.30" fill="#000"/>
<rect x="461.30" y="117.35" width="3.30" height="3.30" fill="#000"/>
<rect x="465.80" y="117.35" width="3.30" height="3.30" fill="#000"/>
<rect x="470.30" y="117.35" width="3.30" height="3.30" fill="#000"/>
<rect x="472.55" y="117.35" width="3.30" height="3.30" fill="#000"/>
<rect x="477.05" y="117.35" width="3.30" height="3.30" fill="#000"/>
<rect x="481.55" y="117.35" width="3.30" height="3.30" fill="#000"/>
<rect x="488.30" y="118.35" width="3.30" height="3.30" fill="#000"/>
<rect x="492.80" y="118.35" width="3.30" height="3.30" fill="#000"/>
<rect x="497.30" y="118.35" width="3.30" height="3.30" fill="#000"/>
<polyline points="429.20,120.00 442.70,120.00 447.20,118.20 451.70,118.20 456.20,118.20 458.45,118.20 462.95,118.20 467.45,118.20 471.95,118.20 474.20,118.20 478.70,118.20 483.20,118.20 489.95,120.00 494.45,120.00 498.95,120.00" fill="none" stroke="#000" stroke-width="1.0" stroke-linejoin="miter"/>
<rect x="427.55" y="118.35" width="3.30" height="3.30" fill="#000"/>
<rect x="441.05" y="118.35" width="3.30" height="3.30" fill="#000"/>
<rect x="445.55" y="116.55" width="3.30" height="3.30" fill="#000"/>
<rect x="450.05" y="116.55" width="3.30" height="3.30" fill="#000"/>
<rect x="454.55" y="116.55" width="3.30" height="3.30" fill="#000"/>
<rect x="456.80" y="116.55" width="3.30" height="3.30" fill="#000"/>
<rect x="461.30" y="116.55" width="3.30" height="3.30" fill="#000"/>
<rect x="465.80" y="116.55" width="3.30" height="3.30" fill="#000"/>
<rect x="470.30" y="116.55" width="3.30" height="3.30" fill="#000"/>
<rect x="472.55" y="116.55" width="3.30" height="3.30" fill="#000"/>
<rect x="477.05" y="116.55" width="3.30" height="3.30" fill="#000"/>
<rect x="481.55" y="116.55" width="3.30" height="3.30" fill="#000"/>
<rect x="488.30" y="118.35" width="3.30" height="3.30" fill="#000"/>
<rect x="492.80" y="118.35" width="3.30" height="3.30" fill="#000"/>
<rect x="497.30" y="118.35" width="3.30" height="3.30" fill="#000"/>
<polyline points="514.00,119.90 527.50,119.90 532.00,119.90 536.50,119.90 543.25,119.90 547.75,119.90 552.25,119.90 556.75,119.90 561.25,119.90 565.75,119.90 570.25,119.90 574.75,119.90 579.25,119.90 583.75,119.90" fill="none" stroke="#000" stroke-width="1.0" stroke-linejoin="miter"/>
<polygon points="512.00,121.70 516.00,121.70 514.00,118.10" fill="#000"/>
<polygon points="525.50,121.70 529.50,121.70 527.50,118.10" fill="#000"/>
<polygon points="530.00,121.70 534.00,121.70 532.00,118.10" fill="#000"/>
<polygon points="534.50,121.70 538.50,121.70 536.50,118.10" fill="#000"/>
<polygon points="541.25,121.70 545.25,121.70 543.25,118.10" fill="#000"/>
<polygon points="545.75,121.70 549.75,121.70 547.75,118.10" fill="#000"/>
<polygon points="550.25,121.70 554.25,121.70 552.25,118.10" fill="#000"/>
<polygon points="554.75,121.70 558.75,121.70 556.75,118.10" fill="#000"/>
<polygon points="559.25,121.70 563.25,121.70 561.25,118.10" fill="#000"/>
<polygon points="563.75,121.70 567.75,121.70 565.75,118.10" fill="#000"/>
<polygon points="568.25,121.70 572.25,121.70 570.25,118.10" fill="#000"/>
<polygon points="572.75,121.70 576.75,121.70 574.75,118.10" fill="#000"/>
<polygon points="577.25,121.70 581.25,121.70 579.25,118.10" fill="#000"/>
<polygon points="581.75,121.70 585.75,121.70 583.75,118.10" fill="#000"/>
<polyline points="514.00,119.90 527.50,119.90 532.00,119.90 536.50,119.90 543.25,119.90 547.75,119.90 552.25,119.90 556.75,119.72 561.25,119.53 565.75,119.35 570.25,119.17 574.75,118.99 579.25,118.80 583.75,118.62" fill="none" stroke="#000" stroke-width="1.0" stroke-linejoin="miter"/>
<polygon points="512.00,121.70 516.00,121.70 514.00,118.10" fill="#000"/>
<polygon points="525.50,121.70 529.50,121.70 527.50,118.10" fill="#000"/>
<polygon points="530.00,121.70 534.00,121.70 532.00,118.10" fill="#000"/>
<polygon points="534.50,121.70 538.50,121.70 536.50,118.10" fill="#000"/>
<polygon points="541.25,121.70 545.25,121.70 543.25,118.10" fill="#000"/>
<polygon points="545.75,121.70 549.75,121.70 547.75,118.10" fill="#000"/>
<polygon points="550.25,121.70 554.25,121.70 552.25,118.10" fill="#000"/>
<polygon points="554.75,121.52 558.75,121.52 556.75,117.92" fill="#000"/>
<polygon points="559.25,121.33 563.25,121.33 561.25,117.73" fill="#000"/>
<polygon points="563.75,121.15 567.75,121.15 565.75,117.55" fill="#000"/>
<polygon points="568.25,120.97 572.25,120.97 570.25,117.37" fill="#000"/>
<polygon points="572.75,120.79 576.75,120.79 574.75,117.19" fill="#000"/>
<polygon points="577.25,120.60 581.25,120.60 579.25,117.00" fill="#000"/>
<polygon points="581.75,120.42 585.75,120.42 583.75,116.82" fill="#000"/>
<polyline points="514.00,119.90 527.50,119.90 532.00,119.90 536.50,119.90 543.25,119.90 547.75,119.90 552.25,119.90 556.75,119.44 561.25,118.99 565.75,118.53 570.25,118.07 574.75,117.61 579.25,117.16 583.75,116.70" fill="none" stroke="#000" stroke-width="1.0" stroke-linejoin="miter"/>
<polygon points="512.00,121.70 516.00,121.70 514.00,118.10" fill="#000"/>
<polygon points="525.50,121.70 529.50,121.70 527.50,118.10" fill="#000"/>
<polygon points="530.00,121.70 534.00,121.70 532.00,118.10" fill="#000"/>
<polygon points="534.50,121.70 538.50,121.70 536.50,118.10" fill="#000"/>
<polygon points="541.25,121.70 545.25,121.70 543.25,118.10" fill="#000"/>
<polygon points="545.75,121.70 549.75,121.70 547.75,118.10" fill="#000"/>
<polygon points="550.25,121.70 554.25,121.70 552.25,118.10" fill="#000"/>
<polygon points="554.75,121.24 558.75,121.24 556.75,117.64" fill="#000"/>
<polygon points="559.25,120.79 563.25,120.79 561.25,117.19" fill="#000"/>
<polygon points="563.75,120.33 567.75,120.33 565.75,116.73" fill="#000"/>
<polygon points="568.25,119.87 572.25,119.87 570.25,116.27" fill="#000"/>
<polygon points="572.75,119.41 576.75,119.41 574.75,115.81" fill="#000"/>
<polygon points="577.25,118.96 581.25,118.96 579.25,115.36" fill="#000"/>
<polygon points="581.75,118.50 585.75,118.50 583.75,114.90" fill="#000"/>
<polyline points="598.90,120.30 612.90,120.30 621.80,117.10 628.20,116.10 633.30,114.50 638.30,113.30 644.10,111.70 649.20,108.80 653.60,105.00 660.00,103.30 665.10,101.60 670.20,99.00" fill="none" stroke="#000" stroke-width="1.1" stroke-linejoin="miter"/>
<polygon points="596.70,118.32 601.10,118.32 598.90,122.28" fill="#000"/>
<polygon points="610.70,118.32 615.10,118.32 612.90,122.28" fill="#000"/>
<polygon points="619.60,115.12 624.00,115.12 621.80,119.08" fill="#000"/>
<polygon points="626.00,114.12 630.40,114.12 628.20,118.08" fill="#000"/>
<polygon points="631.10,112.52 635.50,112.52 633.30,116.48" fill="#000"/>
<polygon points="636.10,111.32 640.50,111.32 638.30,115.28" fill="#000"/>
<polygon points="641.90,109.72 646.30,109.72 644.10,113.68" fill="#000"/>
<polygon points="647.00,106.82 651.40,106.82 649.20,110.78" fill="#000"/>
<polygon points="651.40,103.02 655.80,103.02 653.60,106.98" fill="#000"/>
<polygon points="657.80,101.32 662.20,101.32 660.00,105.28" fill="#000"/>
<polygon points="662.90,99.62 667.30,99.62 665.10,103.58" fill="#000"/>
<polygon points="668.00,97.02 672.40,97.02 670.20,100.98" fill="#000"/>
<polyline points="598.90,120.30 612.90,120.30 621.80,118.50 628.20,117.50 633.30,115.50 638.30,114.30 644.70,112.00 649.80,112.00 654.90,111.30 660.00,110.50 665.10,109.70 670.20,106.30" fill="none" stroke="#000" stroke-width="1.1" stroke-linejoin="miter"/>
<polygon points="596.70,118.32 601.10,118.32 598.90,122.28" fill="#000"/>
<polygon points="610.70,118.32 615.10,118.32 612.90,122.28" fill="#000"/>
<polygon points="619.60,116.52 624.00,116.52 621.80,120.48" fill="#000"/>
<polygon points="626.00,115.52 630.40,115.52 628.20,119.48" fill="#000"/>
<polygon points="631.10,113.52 635.50,113.52 633.30,117.48" fill="#000"/>
<polygon points="636.10,112.32 640.50,112.32 638.30,116.28" fill="#000"/>
<polygon points="642.50,110.02 646.90,110.02 644.70,113.98" fill="#000"/>
<polygon points="647.60,110.02 652.00,110.02 649.80,113.98" fill="#000"/>
<polygon points="652.70,109.32 657.10,109.32 654.90,113.28" fill="#000"/>
<polygon points="657.80,108.52 662.20,108.52 660.00,112.48" fill="#000"/>
<polygon points="662.90,107.72 667.30,107.72 665.10,111.68" fill="#000"/>
<polygon points="668.00,104.32 672.40,104.32 670.20,108.28" fill="#000"/>
<polyline points="598.90,120.30 612.90,120.30 621.80,120.00 628.20,119.80 633.30,119.60 638.30,119.40 644.70,119.30 649.80,119.00 654.90,118.80 660.00,118.20 665.10,116.00 670.20,115.00" fill="none" stroke="#000" stroke-width="1.1" stroke-linejoin="miter"/>
<polygon points="596.70,118.32 601.10,118.32 598.90,122.28" fill="#000"/>
<polygon points="610.70,118.32 615.10,118.32 612.90,122.28" fill="#000"/>
<polygon points="619.60,118.02 624.00,118.02 621.80,121.98" fill="#000"/>
<polygon points="626.00,117.82 630.40,117.82 628.20,121.78" fill="#000"/>
<polygon points="631.10,117.62 635.50,117.62 633.30,121.58" fill="#000"/>
<polygon points="636.10,117.42 640.50,117.42 638.30,121.38" fill="#000"/>
<polygon points="642.50,117.32 646.90,117.32 644.70,121.28" fill="#000"/>
<polygon points="647.60,117.02 652.00,117.02 649.80,120.98" fill="#000"/>
<polygon points="652.70,116.82 657.10,116.82 654.90,120.78" fill="#000"/>
<polygon points="657.80,116.22 662.20,116.22 660.00,120.18" fill="#000"/>
<polygon points="662.90,114.02 667.30,114.02 665.10,117.98" fill="#000"/>
<polygon points="668.00,113.02 672.40,113.02 670.20,116.98" fill="#000"/>
<polyline points="598.90,120.30 612.90,120.30 621.80,120.30 628.20,120.30 633.30,120.30 638.30,120.30 644.70,120.30 649.80,120.30 654.90,120.30 660.00,120.30 665.10,120.30 670.20,120.30" fill="none" stroke="#000" stroke-width="1.1" stroke-linejoin="miter"/>
<polygon points="596.70,118.32 601.10,118.32 598.90,122.28" fill="#000"/>
<polygon points="610.70,118.32 615.10,118.32 612.90,122.28" fill="#000"/>
<polygon points="619.60,118.32 624.00,118.32 621.80,122.28" fill="#000"/>
<polygon points="626.00,118.32 630.40,118.32 628.20,122.28" fill="#000"/>
<polygon points="631.10,118.32 635.50,118.32 633.30,122.28" fill="#000"/>
<polygon points="636.10,118.32 640.50,118.32 638.30,122.28" fill="#000"/>
<polygon points="642.50,118.32 646.90,118.32 644.70,122.28" fill="#000"/>
<polygon points="647.60,118.32 652.00,118.32 649.80,122.28" fill="#000"/>
<polygon points="652.70,118.32 657.10,118.32 654.90,122.28" fill="#000"/>
<polygon points="657.80,118.32 662.20,118.32 660.00,122.28" fill="#000"/>
<polygon points="662.90,118.32 667.30,118.32 665.10,122.28" fill="#000"/>
<polygon points="668.00,118.32 672.40,118.32 670.20,122.28" fill="#000"/>
<text x="388.00" y="173.90" font-size="14.5" font-weight="bold" fill="#111">d</text>
<line x1="441.50" y1="192.00" x2="441.50" y2="296.30" stroke="#000" stroke-width="1.3"/>
<line x1="438.80" y1="296.50" x2="441.30" y2="296.50" stroke="#000" stroke-width="1.1"/>
<text x="0.00" y="0.00" font-size="11.4" text-anchor="end" fill="#2a2a2a" transform="translate(438.80 302.10) scale(1 1.12)">0</text>
<line x1="438.80" y1="275.50" x2="441.30" y2="275.50" stroke="#000" stroke-width="1.1"/>
<text x="0.00" y="0.00" font-size="11.4" text-anchor="end" fill="#2a2a2a" transform="translate(438.80 281.24) scale(1 1.12)">20</text>
<line x1="438.80" y1="254.50" x2="441.30" y2="254.50" stroke="#000" stroke-width="1.1"/>
<text x="0.00" y="0.00" font-size="11.4" text-anchor="end" fill="#2a2a2a" transform="translate(438.80 260.38) scale(1 1.12)">40</text>
<line x1="438.80" y1="233.50" x2="441.30" y2="233.50" stroke="#000" stroke-width="1.1"/>
<text x="0.00" y="0.00" font-size="11.4" text-anchor="end" fill="#2a2a2a" transform="translate(438.80 239.52) scale(1 1.12)">60</text>
<line x1="438.80" y1="212.50" x2="441.30" y2="212.50" stroke="#000" stroke-width="1.1"/>
<text x="0.00" y="0.00" font-size="11.4" text-anchor="end" fill="#2a2a2a" transform="translate(438.80 218.66) scale(1 1.12)">80</text>
<line x1="438.80" y1="192.50" x2="441.30" y2="192.50" stroke="#000" stroke-width="1.1"/>
<text x="0.00" y="0.00" font-size="11.4" text-anchor="end" fill="#2a2a2a" transform="translate(438.80 197.80) scale(1 1.12)">100</text>
<line x1="441.30" y1="296.50" x2="597.90" y2="296.50" stroke="#000" stroke-width="1.3"/>
<line x1="442.50" y1="296.30" x2="442.50" y2="298.80" stroke="#000" stroke-width="1.1"/>
<text x="0.00" y="0.00" font-size="11.3" text-anchor="middle" fill="#2a2a2a" transform="translate(441.50 311.30) scale(1 1.12)">0</text>
<line x1="491.50" y1="296.30" x2="491.50" y2="298.80" stroke="#000" stroke-width="1.1"/>
<text x="0.00" y="0.00" font-size="11.3" text-anchor="middle" fill="#2a2a2a" transform="translate(490.40 311.30) scale(1 1.12)">10</text>
<line x1="540.50" y1="296.30" x2="540.50" y2="298.80" stroke="#000" stroke-width="1.1"/>
<text x="0.00" y="0.00" font-size="11.3" text-anchor="middle" fill="#2a2a2a" transform="translate(539.30 311.30) scale(1 1.12)">20</text>
<line x1="589.50" y1="296.30" x2="589.50" y2="298.80" stroke="#000" stroke-width="1.1"/>
<text x="0.00" y="0.00" font-size="11.3" text-anchor="middle" fill="#2a2a2a" transform="translate(588.20 311.30) scale(1 1.12)">30</text>
<text x="518.80" y="328.60" font-size="12.9" font-weight="bold" text-anchor="middle" fill="#111">Days after rechallenge</text>
<text x="416.00" y="288.00" font-size="13.15" font-weight="bold" fill="#111" transform="rotate(-90 416.00 288.00)">Tumor free (%)</text>
<polyline points="441.30,192.00 471.64,192.00 471.64,296.30" fill="none" stroke="#000" stroke-width="1.2" stroke-linejoin="miter"/>
<polyline points="441.30,192.00 584.11,192.00" fill="none" stroke="#000" stroke-width="1.2" stroke-linejoin="miter"/>
<polyline points="540.10,192.00 540.10,209.42 584.11,209.42" fill="none" stroke="#000" stroke-width="1.2" stroke-linejoin="miter"/>
<polyline points="481.42,192.00 481.42,209.42 505.87,209.42 505.87,226.73 540.10,226.73 540.10,244.15 574.33,244.15 574.33,261.57 584.11,261.57" fill="none" stroke="#000" stroke-width="1.2" stroke-linejoin="miter"/>
<circle cx="471.64" cy="296.30" r="2.80" fill="#000"/>
<rect x="488.00" y="188.80" width="6.40" height="6.40" fill="#000"/>
<rect x="580.91" y="188.80" width="6.40" height="6.40" fill="#000"/>
<polygon points="537.00,212.21 543.20,212.21 540.10,206.63" fill="#000"/>
<polygon points="581.01,212.21 587.21,212.21 584.11,206.63" fill="#000"/>
<polygon points="478.32,206.63 484.52,206.63 481.42,212.21" fill="#000"/>
<polygon points="502.77,223.94 508.97,223.94 505.87,229.52" fill="#000"/>
<polygon points="537.00,241.36 543.20,241.36 540.10,246.94" fill="#000"/>
<polygon points="571.23,258.78 577.43,258.78 574.33,264.36" fill="#000"/>
<polygon points="581.01,258.78 587.21,258.78 584.11,264.36" fill="#000"/>
<line x1="476.10" y1="236.50" x2="490.60" y2="236.50" stroke="#000" stroke-width="1.0"/>
<circle cx="483.40" cy="236.90" r="4.00" fill="#000"/>
<text x="499.30" y="241.00" font-size="11.9" fill="#2a2a2a">Naive</text>
<line x1="476.10" y1="252.50" x2="490.60" y2="252.50" stroke="#000" stroke-width="1.0"/>
<rect x="479.80" y="248.90" width="7.20" height="7.20" fill="#000"/>
<text x="499.30" y="256.20" font-size="11.9" fill="#2a2a2a">α-neu</text>
<line x1="476.10" y1="269.50" x2="490.60" y2="269.50" stroke="#000" stroke-width="1.0"/>
<polygon points="479.20,272.78 487.60,272.78 483.40,265.22" fill="#000"/>
<text x="499.30" y="272.10" font-size="11.9" fill="#2a2a2a">α-4-1BB</text>
<line x1="476.10" y1="286.50" x2="490.60" y2="286.50" stroke="#000" stroke-width="1.0"/>
<polygon points="479.20,282.22 487.60,282.22 483.40,289.78" fill="#000"/>
<text x="499.30" y="289.30" font-size="11.9" fill="#2a2a2a">α-neu+α-4-1BB</text>
<text x="312.60" y="376.60" font-size="14.5" font-weight="bold" fill="#111">g</text>
<text x="336.10" y="376.50" font-size="13.2" font-weight="bold" fill="#111">Rechallenging  tumor</text>
<text x="335.40" y="520.50" font-size="13.15" font-weight="bold" fill="#111" transform="rotate(-90 335.40 520.50)">Tumor volume (mm<tspan dy="-4.6" font-size="9">3</tspan><tspan dy="4.6">)</tspan></text>
<text x="420.50" y="400.00" font-size="12.9" text-anchor="middle" fill="#2a2a2a">α-4-1BB</text>
<line x1="375.20" y1="407.50" x2="471.60" y2="407.50" stroke="#000" stroke-width="1.2"/>
<text x="596.40" y="400.00" font-size="12.9" text-anchor="middle" fill="#2a2a2a">α-neu + α-4-1BB</text>
<line x1="547.30" y1="407.50" x2="643.20" y2="407.50" stroke="#000" stroke-width="1.2"/>
<text x="383.60" y="423.00" font-size="12.9" text-anchor="middle" fill="#2a2a2a">TUBO</text>
<text x="463.40" y="423.00" font-size="12.9" text-anchor="middle" fill="#2a2a2a">TUBO-P2J</text>
<text x="552.80" y="423.00" font-size="12.9" text-anchor="middle" fill="#2a2a2a">TUBO</text>
<text x="633.70" y="423.00" font-size="12.9" text-anchor="middle" fill="#2a2a2a">TUBO-P2J</text>
<line x1="344.50" y1="428.60" x2="344.50" y2="491.40" stroke="#000" stroke-width="1.3"/>
<line x1="344.00" y1="491.50" x2="417.00" y2="491.50" stroke="#000" stroke-width="1.3"/>
<line x1="342.20" y1="444.50" x2="344.00" y2="444.50" stroke="#000" stroke-width="1.0"/>
<line x1="342.20" y1="459.50" x2="344.00" y2="459.50" stroke="#000" stroke-width="1.0"/>
<line x1="342.20" y1="475.50" x2="344.00" y2="475.50" stroke="#000" stroke-width="1.0"/>
<line x1="344.50" y1="491.40" x2="344.50" y2="493.60" stroke="#000" stroke-width="1.0"/>
<text x="0.00" y="0.00" font-size="11.2" text-anchor="middle" fill="#2a2a2a" transform="translate(343.60 504.40) scale(1 1.12)">0</text>
<line x1="366.50" y1="491.40" x2="366.50" y2="493.60" stroke="#000" stroke-width="1.0"/>
<text x="0.00" y="0.00" font-size="11.2" text-anchor="middle" fill="#2a2a2a" transform="translate(366.30 504.40) scale(1 1.12)">10</text>
<line x1="389.50" y1="491.40" x2="389.50" y2="493.60" stroke="#000" stroke-width="1.0"/>
<text x="0.00" y="0.00" font-size="11.2" text-anchor="middle" fill="#2a2a2a" transform="translate(389.00 504.40) scale(1 1.12)">20</text>
<line x1="412.50" y1="491.40" x2="412.50" y2="493.60" stroke="#000" stroke-width="1.0"/>
<text x="0.00" y="0.00" font-size="11.2" text-anchor="middle" fill="#2a2a2a" transform="translate(411.70 504.40) scale(1 1.12)">30</text>
<line x1="427.50" y1="428.60" x2="427.50" y2="491.40" stroke="#000" stroke-width="1.3"/>
<line x1="427.40" y1="491.50" x2="500.40" y2="491.50" stroke="#000" stroke-width="1.3"/>
<line x1="425.60" y1="444.50" x2="427.40" y2="444.50" stroke="#000" stroke-width="1.0"/>
<line x1="425.60" y1="459.50" x2="427.40" y2="459.50" stroke="#000" stroke-width="1.0"/>
<line x1="425.60" y1="475.50" x2="427.40" y2="475.50" stroke="#000" stroke-width="1.0"/>
<line x1="427.50" y1="491.40" x2="427.50" y2="493.60" stroke="#000" stroke-width="1.0"/>
<text x="0.00" y="0.00" font-size="11.2" text-anchor="middle" fill="#2a2a2a" transform="translate(427.00 504.40) scale(1 1.12)">0</text>
<line x1="450.50" y1="491.40" x2="450.50" y2="493.60" stroke="#000" stroke-width="1.0"/>
<text x="0.00" y="0.00" font-size="11.2" text-anchor="middle" fill="#2a2a2a" transform="translate(449.70 504.40) scale(1 1.12)">10</text>
<line x1="472.50" y1="491.40" x2="472.50" y2="493.60" stroke="#000" stroke-width="1.0"/>
<text x="0.00" y="0.00" font-size="11.2" text-anchor="middle" fill="#2a2a2a" transform="translate(472.40 504.40) scale(1 1.12)">20</text>
<line x1="495.50" y1="491.40" x2="495.50" y2="493.60" stroke="#000" stroke-width="1.0"/>
<text x="0.00" y="0.00" font-size="11.2" text-anchor="middle" fill="#2a2a2a" transform="translate(495.10 504.40) scale(1 1.12)">30</text>
<line x1="513.50" y1="428.60" x2="513.50" y2="491.40" stroke="#000" stroke-width="1.3"/>
<line x1="513.00" y1="491.50" x2="586.00" y2="491.50" stroke="#000" stroke-width="1.3"/>
<line x1="511.20" y1="444.50" x2="513.00" y2="444.50" stroke="#000" stroke-width="1.0"/>
<line x1="511.20" y1="459.50" x2="513.00" y2="459.50" stroke="#000" stroke-width="1.0"/>
<line x1="511.20" y1="475.50" x2="513.00" y2="475.50" stroke="#000" stroke-width="1.0"/>
<line x1="513.50" y1="491.40" x2="513.50" y2="493.60" stroke="#000" stroke-width="1.0"/>
<text x="0.00" y="0.00" font-size="11.2" text-anchor="middle" fill="#2a2a2a" transform="translate(512.60 504.40) scale(1 1.12)">0</text>
<line x1="535.50" y1="491.40" x2="535.50" y2="493.60" stroke="#000" stroke-width="1.0"/>
<text x="0.00" y="0.00" font-size="11.2" text-anchor="middle" fill="#2a2a2a" transform="translate(535.30 504.40) scale(1 1.12)">10</text>
<line x1="558.50" y1="491.40" x2="558.50" y2="493.60" stroke="#000" stroke-width="1.0"/>
<text x="0.00" y="0.00" font-size="11.2" text-anchor="middle" fill="#2a2a2a" transform="translate(558.00 504.40) scale(1 1.12)">20</text>
<line x1="581.50" y1="491.40" x2="581.50" y2="493.60" stroke="#000" stroke-width="1.0"/>
<text x="0.00" y="0.00" font-size="11.2" text-anchor="middle" fill="#2a2a2a" transform="translate(580.70 504.40) scale(1 1.12)">30</text>
<line x1="597.50" y1="428.60" x2="597.50" y2="491.40" stroke="#000" stroke-width="1.3"/>
<line x1="597.80" y1="491.50" x2="670.80" y2="491.50" stroke="#000" stroke-width="1.3"/>
<line x1="596.00" y1="444.50" x2="597.80" y2="444.50" stroke="#000" stroke-width="1.0"/>
<line x1="596.00" y1="459.50" x2="597.80" y2="459.50" stroke="#000" stroke-width="1.0"/>
<line x1="596.00" y1="475.50" x2="597.80" y2="475.50" stroke="#000" stroke-width="1.0"/>
<line x1="597.50" y1="491.40" x2="597.50" y2="493.60" stroke="#000" stroke-width="1.0"/>
<text x="0.00" y="0.00" font-size="11.2" text-anchor="middle" fill="#2a2a2a" transform="translate(597.40 504.40) scale(1 1.12)">0</text>
<line x1="620.50" y1="491.40" x2="620.50" y2="493.60" stroke="#000" stroke-width="1.0"/>
<text x="0.00" y="0.00" font-size="11.2" text-anchor="middle" fill="#2a2a2a" transform="translate(620.10 504.40) scale(1 1.12)">10</text>
<line x1="643.50" y1="491.40" x2="643.50" y2="493.60" stroke="#000" stroke-width="1.0"/>
<text x="0.00" y="0.00" font-size="11.2" text-anchor="middle" fill="#2a2a2a" transform="translate(642.80 504.40) scale(1 1.12)">20</text>
<line x1="665.50" y1="491.40" x2="665.50" y2="493.60" stroke="#000" stroke-width="1.0"/>
<text x="0.00" y="0.00" font-size="11.2" text-anchor="middle" fill="#2a2a2a" transform="translate(665.50 504.40) scale(1 1.12)">30</text>
<text x="517.90" y="521.20" font-size="12.9" font-weight="bold" text-anchor="middle" fill="#111">Days after rechallenge</text>
<polyline points="344.00,490.80 353.08,490.80 359.89,490.80 366.70,490.80 371.24,490.80 375.78,490.80 380.32,490.80 384.86,490.80 389.40,490.80 393.94,490.80 398.48,490.80 403.02,490.80 407.56,490.80" fill="none" stroke="#000" stroke-width="1.0" stroke-linejoin="miter"/>
<polygon points="342.10,492.51 345.90,492.51 344.00,489.09" fill="#000"/>
<polygon points="351.18,492.51 354.98,492.51 353.08,489.09" fill="#000"/>
<polygon points="357.99,492.51 361.79,492.51 359.89,489.09" fill="#000"/>
<polygon points="364.80,492.51 368.60,492.51 366.70,489.09" fill="#000"/>
<polygon points="369.34,492.51 373.14,492.51 371.24,489.09" fill="#000"/>
<polygon points="373.88,492.51 377.68,492.51 375.78,489.09" fill="#000"/>
<polygon points="378.42,492.51 382.22,492.51 380.32,489.09" fill="#000"/>
<polygon points="382.96,492.51 386.76,492.51 384.86,489.09" fill="#000"/>
<polygon points="387.50,492.51 391.30,492.51 389.40,489.09" fill="#000"/>
<polygon points="392.04,492.51 395.84,492.51 393.94,489.09" fill="#000"/>
<polygon points="396.58,492.51 400.38,492.51 398.48,489.09" fill="#000"/>
<polygon points="401.12,492.51 404.92,492.51 403.02,489.09" fill="#000"/>
<polygon points="405.66,492.51 409.46,492.51 407.56,489.09" fill="#000"/>
<polyline points="344.00,490.80 353.08,490.80 359.89,490.80 366.70,490.00 371.24,490.00 375.78,490.00 380.32,490.00 384.86,490.00 389.40,490.00 393.94,490.00 398.48,490.00 403.02,490.00 407.56,490.80" fill="none" stroke="#000" stroke-width="1.0" stroke-linejoin="miter"/>
<polygon points="342.10,492.51 345.90,492.51 344.00,489.09" fill="#000"/>
<polygon points="351.18,492.51 354.98,492.51 353.08,489.09" fill="#000"/>
<polygon points="357.99,492.51 361.79,492.51 359.89,489.09" fill="#000"/>
<polygon points="364.80,491.71 368.60,491.71 366.70,488.29" fill="#000"/>
<polygon points="369.34,491.71 373.14,491.71 371.24,488.29" fill="#000"/>
<polygon points="373.88,491.71 377.68,491.71 375.78,488.29" fill="#000"/>
<polygon points="378.42,491.71 382.22,491.71 380.32,488.29" fill="#000"/>
<polygon points="382.96,491.71 386.76,491.71 384.86,488.29" fill="#000"/>
<polygon points="387.50,491.71 391.30,491.71 389.40,488.29" fill="#000"/>
<polygon points="392.04,491.71 395.84,491.71 393.94,488.29" fill="#000"/>
<polygon points="396.58,491.71 400.38,491.71 398.48,488.29" fill="#000"/>
<polygon points="401.12,491.71 404.92,491.71 403.02,488.29" fill="#000"/>
<polygon points="405.66,492.51 409.46,492.51 407.56,489.09" fill="#000"/>
<polyline points="344.00,490.80 353.08,490.80 359.89,490.80 366.70,489.30 371.24,489.30 375.78,489.30 380.32,489.30 384.86,489.30 389.40,489.30 393.94,489.30 398.48,489.30 403.02,489.30 407.56,490.80" fill="none" stroke="#000" stroke-width="1.0" stroke-linejoin="miter"/>
<polygon points="342.10,492.51 345.90,492.51 344.00,489.09" fill="#000"/>
<polygon points="351.18,492.51 354.98,492.51 353.08,489.09" fill="#000"/>
<polygon points="357.99,492.51 361.79,492.51 359.89,489.09" fill="#000"/>
<polygon points="364.80,491.01 368.60,491.01 366.70,487.59" fill="#000"/>
<polygon points="369.34,491.01 373.14,491.01 371.24,487.59" fill="#000"/>
<polygon points="373.88,491.01 377.68,491.01 375.78,487.59" fill="#000"/>
<polygon points="378.42,491.01 382.22,491.01 380.32,487.59" fill="#000"/>
<polygon points="382.96,491.01 386.76,491.01 384.86,487.59" fill="#000"/>
<polygon points="387.50,491.01 391.30,491.01 389.40,487.59" fill="#000"/>
<polygon points="392.04,491.01 395.84,491.01 393.94,487.59" fill="#000"/>
<polygon points="396.58,491.01 400.38,491.01 398.48,487.59" fill="#000"/>
<polygon points="401.12,491.01 404.92,491.01 403.02,487.59" fill="#000"/>
<polygon points="405.66,492.51 409.46,492.51 407.56,489.09" fill="#000"/>
<polyline points="427.40,490.90 436.48,490.90 443.29,490.90 450.10,490.90 454.64,490.90 459.18,490.90 463.72,490.90 468.26,490.90 472.80,490.90 477.34,490.90 481.88,490.90 486.42,490.90 490.96,490.90" fill="none" stroke="#000" stroke-width="1.0" stroke-linejoin="miter"/>
<polygon points="425.60,492.52 429.20,492.52 427.40,489.28" fill="#000"/>
<polygon points="434.68,492.52 438.28,492.52 436.48,489.28" fill="#000"/>
<polygon points="441.49,492.52 445.09,492.52 443.29,489.28" fill="#000"/>
<polygon points="448.30,492.52 451.90,492.52 450.10,489.28" fill="#000"/>
<polygon points="452.84,492.52 456.44,492.52 454.64,489.28" fill="#000"/>
<polygon points="457.38,492.52 460.98,492.52 459.18,489.28" fill="#000"/>
<polygon points="461.92,492.52 465.52,492.52 463.72,489.28" fill="#000"/>
<polygon points="466.46,492.52 470.06,492.52 468.26,489.28" fill="#000"/>
<polygon points="471.00,492.52 474.60,492.52 472.80,489.28" fill="#000"/>
<polygon points="475.54,492.52 479.14,492.52 477.34,489.28" fill="#000"/>
<polygon points="480.08,492.52 483.68,492.52 481.88,489.28" fill="#000"/>
<polygon points="484.62,492.52 488.22,492.52 486.42,489.28" fill="#000"/>
<polygon points="489.16,492.52 492.76,492.52 490.96,489.28" fill="#000"/>
<polyline points="513.40,491.00 522.60,489.60 529.60,486.80 533.80,485.30 538.00,477.60 544.30,468.50 549.30,464.30 553.50,458.20 561.20,455.80 565.40,452.60 569.60,453.70 576.70,450.20" fill="none" stroke="#000" stroke-width="1.2" stroke-linejoin="miter"/>
<polygon points="511.10,488.93 515.70,488.93 513.40,493.07" fill="#000"/>
<polygon points="520.30,487.53 524.90,487.53 522.60,491.67" fill="#000"/>
<polygon points="527.30,484.73 531.90,484.73 529.60,488.87" fill="#000"/>
<polygon points="531.50,483.23 536.10,483.23 533.80,487.37" fill="#000"/>
<polygon points="535.70,475.53 540.30,475.53 538.00,479.67" fill="#000"/>
<polygon points="542.00,466.43 546.60,466.43 544.30,470.57" fill="#000"/>
<polygon points="547.00,462.23 551.60,462.23 549.30,466.37" fill="#000"/>
<polygon points="551.20,456.13 555.80,456.13 553.50,460.27" fill="#000"/>
<polygon points="558.90,453.73 563.50,453.73 561.20,457.87" fill="#000"/>
<polygon points="563.10,450.53 567.70,450.53 565.40,454.67" fill="#000"/>
<polygon points="567.30,451.63 571.90,451.63 569.60,455.77" fill="#000"/>
<polygon points="574.40,448.13 579.00,448.13 576.70,452.27" fill="#000"/>
<polyline points="513.40,491.00 522.60,490.20 529.60,488.50 533.80,486.00 538.00,485.30 545.00,479.00 549.30,469.90 554.20,466.40 560.50,460.00 565.40,453.00 570.30,452.30 576.70,451.60" fill="none" stroke="#000" stroke-width="1.2" stroke-linejoin="miter"/>
<polygon points="511.10,488.93 515.70,488.93 513.40,493.07" fill="#000"/>
<polygon points="520.30,488.13 524.90,488.13 522.60,492.27" fill="#000"/>
<polygon points="527.30,486.43 531.90,486.43 529.60,490.57" fill="#000"/>
<polygon points="531.50,483.93 536.10,483.93 533.80,488.07" fill="#000"/>
<polygon points="535.70,483.23 540.30,483.23 538.00,487.37" fill="#000"/>
<polygon points="542.70,476.93 547.30,476.93 545.00,481.07" fill="#000"/>
<polygon points="547.00,467.83 551.60,467.83 549.30,471.97" fill="#000"/>
<polygon points="551.90,464.33 556.50,464.33 554.20,468.47" fill="#000"/>
<polygon points="558.20,457.93 562.80,457.93 560.50,462.07" fill="#000"/>
<polygon points="563.10,450.93 567.70,450.93 565.40,455.07" fill="#000"/>
<polygon points="568.00,450.23 572.60,450.23 570.30,454.37" fill="#000"/>
<polygon points="574.40,449.53 579.00,449.53 576.70,453.67" fill="#000"/>
<polyline points="513.40,491.00 522.60,490.60 529.60,490.20 533.80,489.80 538.00,489.50 545.00,489.20 549.30,489.00 554.20,488.70 560.50,488.40 565.40,488.10 570.30,487.80 576.70,487.30" fill="none" stroke="#000" stroke-width="1.2" stroke-linejoin="miter"/>
<polygon points="511.10,488.93 515.70,488.93 513.40,493.07" fill="#000"/>
<polygon points="520.30,488.53 524.90,488.53 522.60,492.67" fill="#000"/>
<polygon points="527.30,488.13 531.90,488.13 529.60,492.27" fill="#000"/>
<polygon points="531.50,487.73 536.10,487.73 533.80,491.87" fill="#000"/>
<polygon points="535.70,487.43 540.30,487.43 538.00,491.57" fill="#000"/>
<polygon points="542.70,487.13 547.30,487.13 545.00,491.27" fill="#000"/>
<polygon points="547.00,486.93 551.60,486.93 549.30,491.07" fill="#000"/>
<polygon points="551.90,486.63 556.50,486.63 554.20,490.77" fill="#000"/>
<polygon points="558.20,486.33 562.80,486.33 560.50,490.47" fill="#000"/>
<polygon points="563.10,486.03 567.70,486.03 565.40,490.17" fill="#000"/>
<polygon points="568.00,485.73 572.60,485.73 570.30,489.87" fill="#000"/>
<polygon points="574.40,485.23 579.00,485.23 576.70,489.37" fill="#000"/>
<polyline points="513.40,491.00 522.60,491.00 529.60,491.00 533.80,490.60 538.00,490.30 545.00,490.00 549.30,489.90 554.20,489.80 560.50,489.60 565.40,489.40 570.30,489.20 576.70,488.80" fill="none" stroke="#000" stroke-width="1.2" stroke-linejoin="miter"/>
<polygon points="511.10,488.93 515.70,488.93 513.40,493.07" fill="#000"/>
<polygon points="520.30,488.93 524.90,488.93 522.60,493.07" fill="#000"/>
<polygon points="527.30,488.93 531.90,488.93 529.60,493.07" fill="#000"/>
<polygon points="531.50,488.53 536.10,488.53 533.80,492.67" fill="#000"/>
<polygon points="535.70,488.23 540.30,488.23 538.00,492.37" fill="#000"/>
<polygon points="542.70,487.93 547.30,487.93 545.00,492.07" fill="#000"/>
<polygon points="547.00,487.83 551.60,487.83 549.30,491.97" fill="#000"/>
<polygon points="551.90,487.73 556.50,487.73 554.20,491.87" fill="#000"/>
<polygon points="558.20,487.53 562.80,487.53 560.50,491.67" fill="#000"/>
<polygon points="563.10,487.33 567.70,487.33 565.40,491.47" fill="#000"/>
<polygon points="568.00,487.13 572.60,487.13 570.30,491.27" fill="#000"/>
<polygon points="574.40,486.73 579.00,486.73 576.70,490.87" fill="#000"/>
<polyline points="597.80,491.30 606.50,491.00 613.30,490.30 618.00,488.90 622.70,487.30 628.70,486.00 633.50,483.50 638.20,481.90 644.20,480.80 648.90,477.90 653.60,477.60 660.40,475.20" fill="none" stroke="#000" stroke-width="1.2" stroke-linejoin="miter"/>
<polygon points="595.50,489.23 600.10,489.23 597.80,493.37" fill="#000"/>
<polygon points="604.20,488.93 608.80,488.93 606.50,493.07" fill="#000"/>
<polygon points="611.00,488.23 615.60,488.23 613.30,492.37" fill="#000"/>
<polygon points="615.70,486.83 620.30,486.83 618.00,490.97" fill="#000"/>
<polygon points="620.40,485.23 625.00,485.23 622.70,489.37" fill="#000"/>
<polygon points="626.40,483.93 631.00,483.93 628.70,488.07" fill="#000"/>
<polygon points="631.20,481.43 635.80,481.43 633.50,485.57" fill="#000"/>
<polygon points="635.90,479.83 640.50,479.83 638.20,483.97" fill="#000"/>
<polygon points="641.90,478.73 646.50,478.73 644.20,482.87" fill="#000"/>
<polygon points="646.60,475.83 651.20,475.83 648.90,479.97" fill="#000"/>
<polygon points="651.30,475.53 655.90,475.53 653.60,479.67" fill="#000"/>
<polygon points="658.10,473.13 662.70,473.13 660.40,477.27" fill="#000"/>
<polyline points="597.80,491.30 606.50,491.30 613.30,491.30 618.00,491.30 622.70,491.30 628.70,491.30 633.50,491.30 638.20,491.30 644.20,491.30 648.90,491.30 653.60,491.30 660.40,491.30" fill="none" stroke="#000" stroke-width="1.2" stroke-linejoin="miter"/>
<polygon points="595.50,489.23 600.10,489.23 597.80,493.37" fill="#000"/>
<polygon points="604.20,489.23 608.80,489.23 606.50,493.37" fill="#000"/>
<polygon points="611.00,489.23 615.60,489.23 613.30,493.37" fill="#000"/>
<polygon points="615.70,489.23 620.30,489.23 618.00,493.37" fill="#000"/>
<polygon points="620.40,489.23 625.00,489.23 622.70,493.37" fill="#000"/>
<polygon points="626.40,489.23 631.00,489.23 628.70,493.37" fill="#000"/>
<polygon points="631.20,489.23 635.80,489.23 633.50,493.37" fill="#000"/>
<polygon points="635.90,489.23 640.50,489.23 638.20,493.37" fill="#000"/>
<polygon points="641.90,489.23 646.50,489.23 644.20,493.37" fill="#000"/>
<polygon points="646.60,489.23 651.20,489.23 648.90,493.37" fill="#000"/>
<polygon points="651.30,489.23 655.90,489.23 653.60,493.37" fill="#000"/>
<polygon points="658.10,489.23 662.70,489.23 660.40,493.37" fill="#000"/>
<text x="9.90" y="563.60" font-size="14.5" font-weight="bold" fill="#111">f</text>
<line x1="24.10" y1="585.50" x2="36.20" y2="585.50" stroke="#000" stroke-width="0.9"/>
<rect x="27.30" y="582.00" width="6.60" height="6.60" fill="none" stroke="#000" stroke-width="1.0"/>
<text x="41.80" y="591.20" font-size="11.8" fill="#2a2a2a">Vehicle (n = 6)</text>
<line x1="124.80" y1="585.50" x2="135.50" y2="585.50" stroke="#000" stroke-width="0.9"/>
<rect x="126.80" y="582.00" width="6.60" height="6.60" fill="#000"/>
<text x="141.30" y="591.20" font-size="11.8" fill="#2a2a2a">α-neu (n = 6)</text>
<line x1="214.60" y1="585.50" x2="226.00" y2="585.50" stroke="#000" stroke-width="0.9"/>
<circle cx="220.6" cy="585.3" r="3.0" fill="none" stroke="#444" stroke-width="0.9"/>
<text x="232.50" y="591.20" font-size="11.8" fill="#2a2a2a">α -4-1BB (n = 5)</text>
<line x1="319.70" y1="585.50" x2="330.70" y2="585.50" stroke="#000" stroke-width="0.9"/>
<circle cx="325.30" cy="585.30" r="3.20" fill="#000"/>
<text x="336.60" y="591.20" font-size="11.8" fill="#2a2a2a">α -neu + α -4-1BB (n = 6)</text>
<line x1="64.50" y1="610.20" x2="64.50" y2="733.30" stroke="#000" stroke-width="1.3"/>
<line x1="61.70" y1="733.50" x2="64.20" y2="733.50" stroke="#000" stroke-width="1.0"/>
<text x="0.00" y="0.00" font-size="11.5" text-anchor="end" fill="#2a2a2a" transform="translate(59.40 740.20) scale(1 1.12)">0</text>
<line x1="61.70" y1="708.50" x2="64.20" y2="708.50" stroke="#000" stroke-width="1.0"/>
<text x="0.00" y="0.00" font-size="11.5" text-anchor="end" fill="#2a2a2a" transform="translate(59.40 715.68) scale(1 1.12)">200</text>
<line x1="61.70" y1="684.50" x2="64.20" y2="684.50" stroke="#000" stroke-width="1.0"/>
<text x="0.00" y="0.00" font-size="11.5" text-anchor="end" fill="#2a2a2a" transform="translate(59.40 691.16) scale(1 1.12)">400</text>
<line x1="61.70" y1="659.50" x2="64.20" y2="659.50" stroke="#000" stroke-width="1.0"/>
<text x="0.00" y="0.00" font-size="11.5" text-anchor="end" fill="#2a2a2a" transform="translate(59.40 666.64) scale(1 1.12)">600</text>
<line x1="61.70" y1="635.50" x2="64.20" y2="635.50" stroke="#000" stroke-width="1.0"/>
<text x="0.00" y="0.00" font-size="11.5" text-anchor="end" fill="#2a2a2a" transform="translate(59.40 642.12) scale(1 1.12)">800</text>
<line x1="61.70" y1="610.50" x2="64.20" y2="610.50" stroke="#000" stroke-width="1.0"/>
<text x="0.00" y="0.00" font-size="11.5" text-anchor="end" fill="#2a2a2a" transform="translate(59.40 617.60) scale(1 1.12)">1000</text>
<line x1="64.20" y1="733.50" x2="250.90" y2="733.50" stroke="#000" stroke-width="1.3"/>
<line x1="64.50" y1="733.30" x2="64.50" y2="735.80" stroke="#000" stroke-width="1.0"/>
<text x="0.00" y="0.00" font-size="11.5" text-anchor="middle" fill="#2a2a2a" transform="translate(62.80 747.00) scale(1 1.12)">0</text>
<line x1="90.50" y1="733.30" x2="90.50" y2="735.80" stroke="#000" stroke-width="1.0"/>
<text x="0.00" y="0.00" font-size="11.5" text-anchor="middle" fill="#2a2a2a" transform="translate(89.40 747.00) scale(1 1.12)">10</text>
<line x1="117.50" y1="733.30" x2="117.50" y2="735.80" stroke="#000" stroke-width="1.0"/>
<text x="0.00" y="0.00" font-size="11.5" text-anchor="middle" fill="#2a2a2a" transform="translate(116.00 747.00) scale(1 1.12)">20</text>
<line x1="144.50" y1="733.30" x2="144.50" y2="735.80" stroke="#000" stroke-width="1.0"/>
<text x="0.00" y="0.00" font-size="11.5" text-anchor="middle" fill="#2a2a2a" transform="translate(142.60 747.00) scale(1 1.12)">30</text>
<line x1="170.50" y1="733.30" x2="170.50" y2="735.80" stroke="#000" stroke-width="1.0"/>
<text x="0.00" y="0.00" font-size="11.5" text-anchor="middle" fill="#2a2a2a" transform="translate(169.20 747.00) scale(1 1.12)">40</text>
<line x1="197.50" y1="733.30" x2="197.50" y2="735.80" stroke="#000" stroke-width="1.0"/>
<text x="0.00" y="0.00" font-size="11.5" text-anchor="middle" fill="#2a2a2a" transform="translate(195.80 747.00) scale(1 1.12)">50</text>
<line x1="223.50" y1="733.30" x2="223.50" y2="735.80" stroke="#000" stroke-width="1.0"/>
<text x="0.00" y="0.00" font-size="11.5" text-anchor="middle" fill="#2a2a2a" transform="translate(222.40 747.00) scale(1 1.12)">60</text>
<line x1="250.50" y1="733.30" x2="250.50" y2="735.80" stroke="#000" stroke-width="1.0"/>
<text x="0.00" y="0.00" font-size="11.5" text-anchor="middle" fill="#2a2a2a" transform="translate(249.00 747.00) scale(1 1.12)">70</text>
<text x="71.50" y="758.20" font-size="13" font-weight="bold" fill="#111">Days after tumor inoculation</text>
<text x="31.70" y="751.90" font-size="13.15" font-weight="bold" fill="#111" transform="rotate(-90 31.70 751.90)">Tumor volume (mm<tspan dy="-4.6" font-size="9">3</tspan><tspan dy="4.6">)</tspan></text>
<line x1="106.50" y1="720.43" x2="106.50" y2="716.14" stroke="#000" stroke-width="0.9"/>
<line x1="104.36" y1="716.50" x2="109.16" y2="716.50" stroke="#000" stroke-width="0.9"/>
<line x1="128.50" y1="712.21" x2="128.50" y2="708.78" stroke="#000" stroke-width="0.9"/>
<line x1="125.64" y1="708.50" x2="130.44" y2="708.50" stroke="#000" stroke-width="0.9"/>
<line x1="136.50" y1="705.71" x2="136.50" y2="698.36" stroke="#000" stroke-width="0.9"/>
<line x1="133.62" y1="698.50" x2="138.42" y2="698.50" stroke="#000" stroke-width="0.9"/>
<line x1="146.50" y1="691.00" x2="146.50" y2="674.45" stroke="#000" stroke-width="0.9"/>
<line x1="144.26" y1="674.50" x2="149.06" y2="674.50" stroke="#000" stroke-width="0.9"/>
<line x1="154.50" y1="683.65" x2="154.50" y2="664.03" stroke="#000" stroke-width="0.9"/>
<line x1="152.24" y1="664.50" x2="157.04" y2="664.50" stroke="#000" stroke-width="0.9"/>
<line x1="165.50" y1="670.77" x2="165.50" y2="648.71" stroke="#000" stroke-width="0.9"/>
<line x1="162.88" y1="648.50" x2="167.68" y2="648.50" stroke="#000" stroke-width="0.9"/>
<line x1="175.50" y1="659.13" x2="175.50" y2="637.06" stroke="#000" stroke-width="0.9"/>
<line x1="173.52" y1="637.50" x2="178.32" y2="637.50" stroke="#000" stroke-width="0.9"/>
<line x1="183.50" y1="646.01" x2="183.50" y2="623.57" stroke="#000" stroke-width="0.9"/>
<line x1="181.50" y1="623.50" x2="186.30" y2="623.50" stroke="#000" stroke-width="0.9"/>
<line x1="128.50" y1="715.16" x2="128.50" y2="713.07" stroke="#000" stroke-width="0.9"/>
<line x1="125.64" y1="713.50" x2="130.44" y2="713.50" stroke="#000" stroke-width="0.9"/>
<line x1="136.50" y1="710.01" x2="136.50" y2="704.49" stroke="#000" stroke-width="0.9"/>
<line x1="133.62" y1="704.50" x2="138.42" y2="704.50" stroke="#000" stroke-width="0.9"/>
<line x1="146.50" y1="693.82" x2="146.50" y2="677.52" stroke="#000" stroke-width="0.9"/>
<line x1="144.26" y1="677.50" x2="149.06" y2="677.50" stroke="#000" stroke-width="0.9"/>
<line x1="154.50" y1="684.26" x2="154.50" y2="666.48" stroke="#000" stroke-width="0.9"/>
<line x1="152.24" y1="666.50" x2="157.04" y2="666.50" stroke="#000" stroke-width="0.9"/>
<line x1="106.50" y1="719.81" x2="106.50" y2="716.75" stroke="#000" stroke-width="0.9"/>
<line x1="104.36" y1="716.50" x2="109.16" y2="716.50" stroke="#000" stroke-width="0.9"/>
<line x1="175.50" y1="727.78" x2="175.50" y2="723.49" stroke="#000" stroke-width="0.9"/>
<line x1="173.52" y1="723.50" x2="178.32" y2="723.50" stroke="#000" stroke-width="0.9"/>
<line x1="183.50" y1="726.19" x2="183.50" y2="721.04" stroke="#000" stroke-width="0.9"/>
<line x1="181.50" y1="721.50" x2="186.30" y2="721.50" stroke="#000" stroke-width="0.9"/>
<line x1="191.50" y1="726.31" x2="191.50" y2="721.65" stroke="#000" stroke-width="0.9"/>
<line x1="189.48" y1="721.50" x2="194.28" y2="721.50" stroke="#000" stroke-width="0.9"/>
<line x1="202.50" y1="724.96" x2="202.50" y2="721.04" stroke="#000" stroke-width="0.9"/>
<line x1="200.12" y1="721.50" x2="204.92" y2="721.50" stroke="#000" stroke-width="0.9"/>
<line x1="210.50" y1="724.10" x2="210.50" y2="717.97" stroke="#000" stroke-width="0.9"/>
<line x1="208.10" y1="717.50" x2="212.90" y2="717.50" stroke="#000" stroke-width="0.9"/>
<line x1="221.50" y1="721.04" x2="221.50" y2="712.46" stroke="#000" stroke-width="0.9"/>
<line x1="218.74" y1="712.50" x2="223.54" y2="712.50" stroke="#000" stroke-width="0.9"/>
<line x1="106.50" y1="719.57" x2="106.50" y2="716.14" stroke="#000" stroke-width="0.9"/>
<line x1="104.36" y1="716.50" x2="109.16" y2="716.50" stroke="#000" stroke-width="0.9"/>
<line x1="128.50" y1="728.40" x2="128.50" y2="725.94" stroke="#000" stroke-width="0.9"/>
<line x1="125.64" y1="725.50" x2="130.44" y2="725.50" stroke="#000" stroke-width="0.9"/>
<polyline points="64.20,733.30 98.78,725.70 106.76,719.57 117.40,721.65 128.04,728.40 136.02,731.09 146.66,732.07 154.64,732.69 165.28,732.93 175.92,733.05 183.90,733.05 191.88,733.05 202.52,733.05 210.50,733.05 221.14,733.05" fill="none" stroke="#000" stroke-width="1.0" stroke-linejoin="miter"/>
<polyline points="64.20,733.30 98.78,725.94 106.76,719.81 117.40,726.19 128.04,729.62 136.02,731.09 146.66,731.46 154.64,731.58 165.28,730.60 175.92,727.78 183.90,726.19 191.88,726.31 202.52,724.96 210.50,724.10 221.14,721.04" fill="none" stroke="#000" stroke-width="1.0" stroke-linejoin="miter"/>
<polyline points="64.20,733.30 98.78,725.94 106.76,720.43 117.40,719.81 128.04,712.21 136.02,705.71 146.66,691.00 154.64,683.65 165.28,670.77 175.92,659.13 183.90,646.01" fill="none" stroke="#000" stroke-width="1.0" stroke-linejoin="miter"/>
<polyline points="64.20,733.30 98.78,726.56 106.76,719.57 117.40,718.83 128.04,715.16 136.02,710.01 146.66,693.82 154.64,684.26 165.28,671.39" fill="none" stroke="#000" stroke-width="1.0" stroke-linejoin="miter"/>
<ellipse cx="64.20" cy="733.30" rx="2.6" ry="2.3" fill="none" stroke="#444" stroke-width="0.9"/>
<ellipse cx="98.78" cy="725.94" rx="2.6" ry="2.3" fill="none" stroke="#444" stroke-width="0.9"/>
<ellipse cx="106.76" cy="719.81" rx="2.6" ry="2.3" fill="none" stroke="#444" stroke-width="0.9"/>
<ellipse cx="117.40" cy="726.19" rx="2.6" ry="2.3" fill="none" stroke="#444" stroke-width="0.9"/>
<ellipse cx="128.04" cy="729.62" rx="2.6" ry="2.3" fill="none" stroke="#444" stroke-width="0.9"/>
<ellipse cx="136.02" cy="731.09" rx="2.6" ry="2.3" fill="none" stroke="#444" stroke-width="0.9"/>
<ellipse cx="146.66" cy="731.46" rx="2.6" ry="2.3" fill="none" stroke="#444" stroke-width="0.9"/>
<ellipse cx="154.64" cy="731.58" rx="2.6" ry="2.3" fill="none" stroke="#444" stroke-width="0.9"/>
<ellipse cx="165.28" cy="730.60" rx="2.6" ry="2.3" fill="none" stroke="#444" stroke-width="0.9"/>
<ellipse cx="175.92" cy="727.78" rx="2.6" ry="2.3" fill="none" stroke="#444" stroke-width="0.9"/>
<ellipse cx="183.90" cy="726.19" rx="2.6" ry="2.3" fill="none" stroke="#444" stroke-width="0.9"/>
<ellipse cx="191.88" cy="726.31" rx="2.6" ry="2.3" fill="none" stroke="#444" stroke-width="0.9"/>
<ellipse cx="202.52" cy="724.96" rx="2.6" ry="2.3" fill="none" stroke="#444" stroke-width="0.9"/>
<ellipse cx="210.50" cy="724.10" rx="2.6" ry="2.3" fill="none" stroke="#444" stroke-width="0.9"/>
<ellipse cx="221.14" cy="721.04" rx="2.6" ry="2.3" fill="none" stroke="#444" stroke-width="0.9"/>
<ellipse cx="64.20" cy="733.30" rx="2.9" ry="2.4" fill="#000"/>
<ellipse cx="98.78" cy="725.70" rx="2.9" ry="2.4" fill="#000"/>
<ellipse cx="106.76" cy="719.57" rx="2.9" ry="2.4" fill="#000"/>
<ellipse cx="117.40" cy="721.65" rx="2.9" ry="2.4" fill="#000"/>
<ellipse cx="128.04" cy="728.40" rx="2.9" ry="2.4" fill="#000"/>
<ellipse cx="136.02" cy="731.09" rx="2.9" ry="2.4" fill="#000"/>
<ellipse cx="146.66" cy="732.07" rx="2.9" ry="2.4" fill="#000"/>
<ellipse cx="154.64" cy="732.69" rx="2.9" ry="2.4" fill="#000"/>
<ellipse cx="165.28" cy="732.93" rx="2.9" ry="2.4" fill="#000"/>
<ellipse cx="175.92" cy="733.05" rx="2.9" ry="2.4" fill="#000"/>
<ellipse cx="183.90" cy="733.05" rx="2.9" ry="2.4" fill="#000"/>
<ellipse cx="191.88" cy="733.05" rx="2.9" ry="2.4" fill="#000"/>
<ellipse cx="202.52" cy="733.05" rx="2.9" ry="2.4" fill="#000"/>
<ellipse cx="210.50" cy="733.05" rx="2.9" ry="2.4" fill="#000"/>
<ellipse cx="221.14" cy="733.05" rx="2.9" ry="2.4" fill="#000"/>
<rect x="61.40" y="730.50" width="5.60" height="5.60" fill="none" stroke="#000" stroke-width="0.9"/>
<rect x="95.98" y="723.14" width="5.60" height="5.60" fill="none" stroke="#000" stroke-width="0.9"/>
<rect x="103.96" y="717.63" width="5.60" height="5.60" fill="none" stroke="#000" stroke-width="0.9"/>
<rect x="114.60" y="717.01" width="5.60" height="5.60" fill="none" stroke="#000" stroke-width="0.9"/>
<rect x="125.24" y="709.41" width="5.60" height="5.60" fill="none" stroke="#000" stroke-width="0.9"/>
<rect x="133.22" y="702.91" width="5.60" height="5.60" fill="none" stroke="#000" stroke-width="0.9"/>
<rect x="143.86" y="688.20" width="5.60" height="5.60" fill="none" stroke="#000" stroke-width="0.9"/>
<rect x="151.84" y="680.85" width="5.60" height="5.60" fill="none" stroke="#000" stroke-width="0.9"/>
<rect x="162.48" y="667.97" width="5.60" height="5.60" fill="none" stroke="#000" stroke-width="0.9"/>
<rect x="173.12" y="656.33" width="5.60" height="5.60" fill="none" stroke="#000" stroke-width="0.9"/>
<rect x="181.10" y="643.21" width="5.60" height="5.60" fill="none" stroke="#000" stroke-width="0.9"/>
<rect x="61.30" y="730.40" width="5.80" height="5.80" fill="#000"/>
<rect x="95.88" y="723.66" width="5.80" height="5.80" fill="#000"/>
<rect x="103.86" y="716.67" width="5.80" height="5.80" fill="#000"/>
<rect x="114.50" y="715.93" width="5.80" height="5.80" fill="#000"/>
<rect x="125.14" y="712.26" width="5.80" height="5.80" fill="#000"/>
<rect x="133.12" y="707.11" width="5.80" height="5.80" fill="#000"/>
<rect x="143.76" y="690.92" width="5.80" height="5.80" fill="#000"/>
<rect x="151.74" y="681.36" width="5.80" height="5.80" fill="#000"/>
<rect x="162.38" y="668.49" width="5.80" height="5.80" fill="#000"/>
<text x="222.80" y="702.00" font-size="14.5" fill="#222">***</text>
<text x="222.60" y="706.60" font-size="10.4" font-weight="bold" letter-spacing="-0.8" fill="#222">##</text>
<text x="231.80" y="728.40" font-size="14.5" fill="#222">***</text>
<text x="232.20" y="732.90" font-size="10.4" font-weight="bold" letter-spacing="-0.8" fill="#222">##</text>
<line x1="300.50" y1="629.20" x2="300.50" y2="733.70" stroke="#000" stroke-width="1.3"/>
<line x1="297.50" y1="733.50" x2="300.00" y2="733.50" stroke="#000" stroke-width="1.0"/>
<text x="0.00" y="0.00" font-size="11.5" text-anchor="end" fill="#2a2a2a" transform="translate(297.00 738.50) scale(1 1.12)">0</text>
<line x1="297.50" y1="707.50" x2="300.00" y2="707.50" stroke="#000" stroke-width="1.0"/>
<text x="0.00" y="0.00" font-size="11.5" text-anchor="end" fill="#2a2a2a" transform="translate(297.00 712.38) scale(1 1.12)">25</text>
<line x1="297.50" y1="681.50" x2="300.00" y2="681.50" stroke="#000" stroke-width="1.0"/>
<text x="0.00" y="0.00" font-size="11.5" text-anchor="end" fill="#2a2a2a" transform="translate(297.00 686.25) scale(1 1.12)">50</text>
<line x1="297.50" y1="655.50" x2="300.00" y2="655.50" stroke="#000" stroke-width="1.0"/>
<text x="0.00" y="0.00" font-size="11.5" text-anchor="end" fill="#2a2a2a" transform="translate(297.00 660.12) scale(1 1.12)">75</text>
<line x1="297.50" y1="629.50" x2="300.00" y2="629.50" stroke="#000" stroke-width="1.0"/>
<text x="0.00" y="0.00" font-size="11.5" text-anchor="end" fill="#2a2a2a" transform="translate(297.00 634.00) scale(1 1.12)">100</text>
<line x1="300.00" y1="733.50" x2="456.70" y2="733.50" stroke="#000" stroke-width="1.3"/>
<line x1="300.50" y1="733.70" x2="300.50" y2="736.20" stroke="#000" stroke-width="1.0"/>
<text x="0.00" y="0.00" font-size="11.5" text-anchor="middle" fill="#2a2a2a" transform="translate(298.50 747.70) scale(1 1.12)">0</text>
<line x1="365.50" y1="733.70" x2="365.50" y2="736.20" stroke="#000" stroke-width="1.0"/>
<text x="0.00" y="0.00" font-size="11.5" text-anchor="middle" fill="#2a2a2a" transform="translate(363.50 747.70) scale(1 1.12)">50</text>
<line x1="430.50" y1="733.70" x2="430.50" y2="736.20" stroke="#000" stroke-width="1.0"/>
<text x="0.00" y="0.00" font-size="11.5" text-anchor="middle" fill="#2a2a2a" transform="translate(428.50 747.70) scale(1 1.12)">100</text>
<text x="285.10" y="758.00" font-size="13" font-weight="bold" fill="#111">Days after tumor inoculation</text>
<text x="276.30" y="746.00" font-size="13.05" font-weight="bold" fill="#111" transform="rotate(-90 276.30 746.00)">Percentage survival</text>
<polyline points="300.00,629.20 390.20,629.20" fill="none" stroke="#000" stroke-width="1.0" stroke-linejoin="miter"/>
<polyline points="354.30,629.20 354.30,646.65 370.50,646.65 370.50,698.90 376.30,698.90 376.30,716.25 431.60,716.25" fill="none" stroke="#000" stroke-width="1.0" stroke-linejoin="miter"/>
<polyline points="361.60,629.20 361.60,646.65 365.50,646.65 365.50,698.90 370.50,698.90" fill="none" stroke="#000" stroke-width="1.0" stroke-linejoin="miter"/>
<polyline points="385.20,716.25 385.20,733.70" fill="none" stroke="#000" stroke-width="1.0" stroke-linejoin="miter"/>
<polyline points="381.30,629.20 381.30,646.65 433.10,646.65" fill="none" stroke="#000" stroke-width="1.0" stroke-linejoin="miter"/>
<polyline points="390.20,629.20 390.20,650.10 399.70,650.10 399.70,671.00 433.10,671.00" fill="none" stroke="#000" stroke-width="1.0" stroke-linejoin="miter"/>
<rect x="350.80" y="643.15" width="7.00" height="7.00" fill="#000"/>
<rect x="367.00" y="695.40" width="7.00" height="7.00" fill="#000"/>
<rect x="372.80" y="712.75" width="7.00" height="7.00" fill="#000"/>
<rect x="428.10" y="712.75" width="7.00" height="7.00" fill="#000"/>
<rect x="358.30" y="643.35" width="6.60" height="6.60" fill="none" stroke="#000" stroke-width="1.0"/>
<rect x="362.20" y="660.70" width="6.60" height="6.60" fill="none" stroke="#000" stroke-width="1.0"/>
<rect x="362.50" y="695.60" width="6.60" height="6.60" fill="none" stroke="#000" stroke-width="1.0"/>
<rect x="381.90" y="730.40" width="6.60" height="6.60" fill="none" stroke="#000" stroke-width="1.0"/>
<circle cx="381.30" cy="646.65" r="3.60" fill="#000"/>
<circle cx="433.10" cy="646.65" r="3.60" fill="#000"/>
<circle cx="390.20" cy="650.10" r="3.50" fill="none" stroke="#000" stroke-width="1.0"/>
<circle cx="399.70" cy="671.00" r="3.50" fill="none" stroke="#000" stroke-width="1.0"/>
<circle cx="433.10" cy="671.00" r="3.50" fill="none" stroke="#000" stroke-width="1.0"/>
<text x="483.50" y="563.30" font-size="14.5" font-weight="bold" fill="#111">h</text>
<text x="500.50" y="560.40" font-size="13.2" font-weight="bold" fill="#111">Rechallenging  tumor</text>
<text x="503.00" y="696.50" font-size="13.1" font-weight="bold" fill="#111" transform="rotate(-90 503.00 696.50)">Tumor volume (mm<tspan dy="-4.6" font-size="9">3</tspan><tspan dy="4.6">)</tspan></text>
<line x1="537.50" y1="573.90" x2="537.50" y2="678.60" stroke="#8c8c8c" stroke-width="1.4"/>
<line x1="535.20" y1="678.50" x2="537.70" y2="678.50" stroke="#8c8c8c" stroke-width="1.1"/>
<text x="0.00" y="0.00" font-size="11.5" text-anchor="end" fill="#2a2a2a" transform="translate(533.50 684.60) scale(1 1.12)">0</text>
<line x1="535.20" y1="645.50" x2="537.70" y2="645.50" stroke="#8c8c8c" stroke-width="1.1"/>
<text x="0.00" y="0.00" font-size="11.5" text-anchor="end" fill="#2a2a2a" transform="translate(533.50 651.94) scale(1 1.12)">500</text>
<line x1="535.20" y1="613.50" x2="537.70" y2="613.50" stroke="#8c8c8c" stroke-width="1.1"/>
<text x="0.00" y="0.00" font-size="11.5" text-anchor="end" fill="#2a2a2a" transform="translate(533.50 619.27) scale(1 1.12)">1000</text>
<line x1="535.20" y1="580.50" x2="537.70" y2="580.50" stroke="#8c8c8c" stroke-width="1.1"/>
<text x="0.00" y="0.00" font-size="11.5" text-anchor="end" fill="#2a2a2a" transform="translate(533.50 586.61) scale(1 1.12)">1500</text>
<line x1="537.70" y1="678.50" x2="665.90" y2="678.50" stroke="#555" stroke-width="1.3"/>
<line x1="543.00" y1="678.50" x2="564.30" y2="678.50" stroke="#000" stroke-width="1.0"/>
<circle cx="549.20" cy="676.50" r="2.80" fill="none" stroke="#777" stroke-width="0.9"/>
<circle cx="554.20" cy="678.60" r="2.80" fill="none" stroke="#777" stroke-width="0.9"/>
<circle cx="559.90" cy="678.60" r="2.80" fill="none" stroke="#777" stroke-width="0.9"/>
<line x1="586.50" y1="678.60" x2="586.50" y2="681.60" stroke="#999" stroke-width="1.0"/>
<line x1="575.50" y1="629.50" x2="596.30" y2="629.50" stroke="#000" stroke-width="1.0"/>
<circle cx="586.50" cy="583.80" r="3.50" fill="#000"/>
<circle cx="586.50" cy="591.70" r="3.50" fill="#000"/>
<circle cx="586.20" cy="674.70" r="3.50" fill="#000"/>
<circle cx="591.50" cy="670.70" r="3.50" fill="#000"/>
<rect x="610.30" y="676.00" width="5.40" height="5.40" fill="none" stroke="#666" stroke-width="0.9"/>
<rect x="615.70" y="676.00" width="5.40" height="5.40" fill="none" stroke="#666" stroke-width="0.9"/>
<rect x="620.60" y="676.00" width="5.40" height="5.40" fill="none" stroke="#666" stroke-width="0.9"/>
<line x1="639.40" y1="667.50" x2="660.00" y2="667.50" stroke="#000" stroke-width="1.0"/>
<rect x="641.30" y="675.10" width="5.80" height="5.80" fill="#000"/>
<rect x="647.40" y="676.50" width="5.80" height="5.80" fill="#000"/>
<rect x="653.10" y="676.50" width="5.80" height="5.80" fill="#000"/>
<rect x="647.40" y="631.60" width="5.80" height="5.80" fill="#000"/>
<text x="561.40" y="689.40" font-size="13.3" text-anchor="end" fill="#2a2a2a" transform="rotate(-45 561.40 689.40)">α-4-1BB</text>
<text x="592.50" y="689.40" font-size="13.3" text-anchor="end" fill="#2a2a2a" transform="rotate(-45 592.50 689.40)">α-neu+α-4-1BB</text>
<text x="622.50" y="689.40" font-size="13.3" text-anchor="end" fill="#2a2a2a" transform="rotate(-45 622.50 689.40)">α-4-1BB</text>
<text x="654.90" y="689.40" font-size="13.3" text-anchor="end" fill="#2a2a2a" transform="rotate(-45 654.90 689.40)">α-neu+α-4-1BB</text>
<line x1="525.80" y1="760.50" x2="570.30" y2="760.50" stroke="#000" stroke-width="1.0"/>
<line x1="592.70" y1="759.50" x2="635.90" y2="759.50" stroke="#000" stroke-width="1.0"/>
<text x="550.60" y="776.30" font-size="12.9" text-anchor="middle" fill="#2a2a2a">TUBO</text>
<text x="613.50" y="776.30" font-size="12.9" text-anchor="middle" fill="#2a2a2a">TUBO-P2J</text>
</svg>
</body></html>
